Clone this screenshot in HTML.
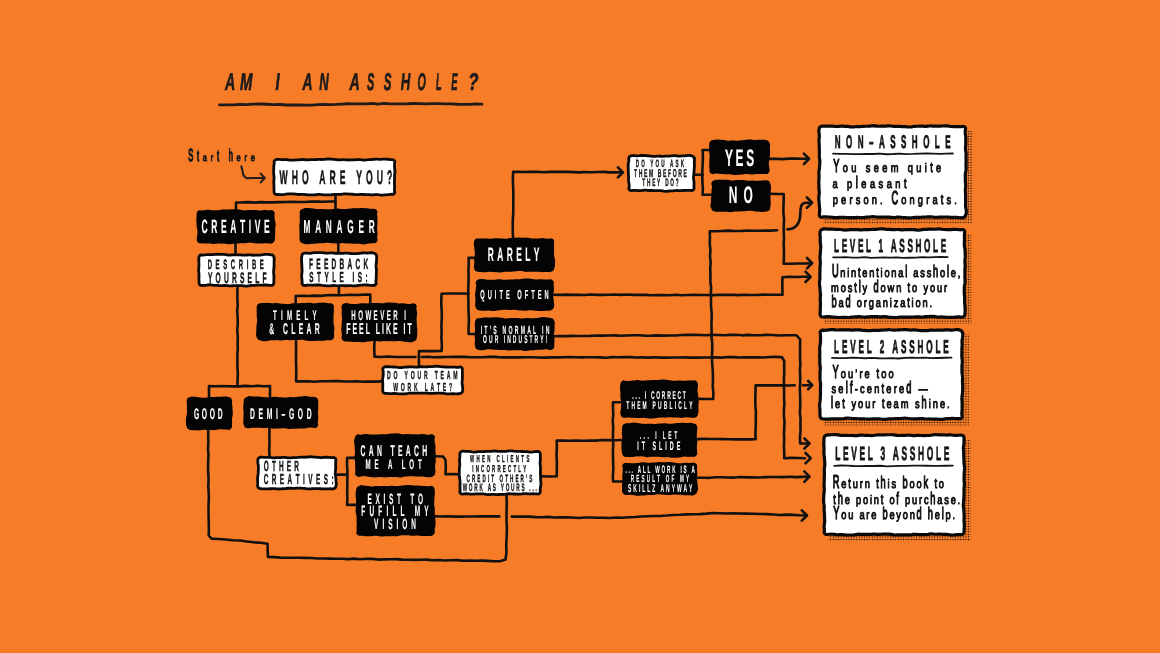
<!DOCTYPE html>
<html><head><meta charset="utf-8"><title>Am I an asshole?</title>
<style>html,body{margin:0;padding:0;background:#F77C27;}body{width:1160px;height:653px;overflow:hidden;font-family:"Liberation Sans",sans-serif;}svg{display:block;will-change:transform;}</style>
</head><body>
<svg width="1160" height="653" viewBox="0 0 1160 653" font-family="'Liberation Sans', sans-serif" text-rendering="geometricPrecision">
<defs><pattern id="dots" width="2.6" height="2.6" patternUnits="userSpaceOnUse"><circle cx="1.3" cy="1.3" r="0.7" fill="#0c0804"/></pattern></defs>
<rect width="1160" height="653" fill="#F77C27"/>
<text x="381.34" y="90.1" transform="scale(0.5898,1)" font-size="24.09" font-weight="bold" font-style="italic" fill="#1e1b1a" stroke="#1e1b1a" stroke-width="0.7" stroke-linejoin="round" vector-effect="non-scaling-stroke">A</text>
<text x="388.82" y="90.1" transform="scale(0.6171,1)" font-size="24.09" font-weight="bold" font-style="italic" fill="#1e1b1a" stroke="#1e1b1a" stroke-width="0.7" stroke-linejoin="round" vector-effect="non-scaling-stroke">M</text>
<text x="449.45" y="90.1" transform="scale(0.6130,1)" font-size="24.09" font-weight="bold" font-style="italic" fill="#1e1b1a" stroke="#1e1b1a" stroke-width="0.7" stroke-linejoin="round" vector-effect="non-scaling-stroke">I</text>
<text x="523.37" y="90.1" transform="scale(0.5780,1)" font-size="24.09" font-weight="bold" font-style="italic" fill="#1e1b1a" stroke="#1e1b1a" stroke-width="0.7" stroke-linejoin="round" vector-effect="non-scaling-stroke">A</text>
<text x="582.71" y="90.1" transform="scale(0.5479,1)" font-size="24.09" font-weight="bold" font-style="italic" fill="#1e1b1a" stroke="#1e1b1a" stroke-width="0.7" stroke-linejoin="round" vector-effect="non-scaling-stroke">N</text>
<text x="592.77" y="90.1" transform="scale(0.5898,1)" font-size="24.09" font-weight="bold" font-style="italic" fill="#1e1b1a" stroke="#1e1b1a" stroke-width="0.7" stroke-linejoin="round" vector-effect="non-scaling-stroke">A</text>
<text x="808.13" y="90.1" transform="scale(0.4540,1)" font-size="24.09" font-weight="bold" font-style="italic" fill="#1e1b1a" stroke="#1e1b1a" stroke-width="0.7" stroke-linejoin="round" vector-effect="non-scaling-stroke">S</text>
<text x="801.78" y="90.1" transform="scale(0.4785,1)" font-size="24.09" font-weight="bold" font-style="italic" fill="#1e1b1a" stroke="#1e1b1a" stroke-width="0.7" stroke-linejoin="round" vector-effect="non-scaling-stroke">S</text>
<text x="731.46" y="90.1" transform="scale(0.5479,1)" font-size="24.09" font-weight="bold" font-style="italic" fill="#1e1b1a" stroke="#1e1b1a" stroke-width="0.7" stroke-linejoin="round" vector-effect="non-scaling-stroke">H</text>
<text x="940.40" y="90.1" transform="scale(0.4440,1)" font-size="24.09" font-weight="bold" font-style="italic" fill="#1e1b1a" stroke="#1e1b1a" stroke-width="0.7" stroke-linejoin="round" vector-effect="non-scaling-stroke">O</text>
<text x="1133.87" y="90.1" transform="scale(0.3845,1)" font-size="24.09" font-weight="bold" font-style="italic" fill="#1e1b1a" stroke="#1e1b1a" stroke-width="0.7" stroke-linejoin="round" vector-effect="non-scaling-stroke">L</text>
<text x="1148.81" y="90.1" transform="scale(0.3929,1)" font-size="24.09" font-weight="bold" font-style="italic" fill="#1e1b1a" stroke="#1e1b1a" stroke-width="0.7" stroke-linejoin="round" vector-effect="non-scaling-stroke">E</text>
<text x="673.49" y="90.1" transform="scale(0.6952,1)" font-size="24.09" font-weight="bold" font-style="italic" fill="#1e1b1a" stroke="#1e1b1a" stroke-width="0.7" stroke-linejoin="round" vector-effect="non-scaling-stroke">?</text>
<path d="M219.50,104.80 L226.25,104.79 L233.00,104.78 L239.75,104.29 L246.51,104.57 L253.25,104.11 L260.00,104.00 L266.66,104.26 L273.33,104.64 L280.00,104.49 L286.66,104.99 L293.33,104.88 L300.00,105.00 L306.01,105.18 L312.01,105.05 L318.00,104.69 L324.00,104.29 L330.01,104.66 L336.00,104.47 L342.00,104.07 L347.99,103.73 L354.00,103.87 L360.00,103.80 L366.00,103.85 L372.00,103.43 L378.00,104.06 L384.00,103.47 L390.00,103.85 L396.00,103.93 L402.00,103.93 L408.00,103.77 L414.00,103.40 L420.00,103.60 L426.20,103.88 L432.40,103.66 L438.60,103.68 L444.80,103.93 L451.00,103.87 L457.20,104.27 L463.40,104.33 L469.60,104.29 L475.80,104.01 L482.00,104.20" fill="none" stroke="#1e1b1a" stroke-width="2.80" stroke-linejoin="round" stroke-linecap="round"/>
<g font-size="10.40" fill="#1e1b1a" stroke="#1e1b1a" stroke-width="1.00" stroke-linejoin="round" vector-effect="non-scaling-stroke"><text transform="matrix(0.7200,0,0,1.6600,188.26,161.40)">S</text><text transform="matrix(0.7200,0,0,1.5200,197.01,161.40)">t</text><text transform="matrix(0.7200,0,0,1.0000,202.84,161.40)">a</text><text transform="matrix(0.7200,0,0,1.0000,210.76,161.40)">r</text><text transform="matrix(0.7200,0,0,1.5200,217.01,161.40)">t</text><text transform="matrix(0.7200,0,0,1.6200,228.68,161.40)">h</text><text transform="matrix(0.7200,0,0,1.0000,236.60,161.40)">e</text><text transform="matrix(0.7200,0,0,1.0000,244.52,161.40)">r</text><text transform="matrix(0.7200,0,0,1.0000,250.77,161.40)">e</text></g>
<path d="M241.40,166.30 L243.50,175.50 L246.50,178.20 L264.50,178.00" fill="none" stroke="#1e1b1a" stroke-width="2.00" stroke-linejoin="round" stroke-linecap="round"/>
<path d="M260.70,173.60 L264.70,178.00 L260.70,182.40" fill="none" stroke="#1e1b1a" stroke-width="2.00" stroke-linejoin="round" stroke-linecap="round"/>
<path d="M335.50,196.00 L335.45,202.50 L335.50,209.00" fill="none" stroke="#111111" stroke-width="2.60" stroke-linejoin="round" stroke-linecap="round"/>
<path d="M335.50,201.50 L329.28,201.43 L323.06,201.68 L316.84,201.65 L310.62,201.61 L304.41,202.02 L298.19,202.01 L291.97,201.76 L285.75,202.05 L279.53,202.08 L273.32,202.39 L267.10,202.35 L260.87,202.10 L254.66,202.65 L248.43,202.11 L242.22,202.38 L236.00,202.50 L236.00,210.00" fill="none" stroke="#111111" stroke-width="2.60" stroke-linejoin="round" stroke-linecap="round"/>
<path d="M235.50,243.00 L235.50,254.00" fill="none" stroke="#111111" stroke-width="2.60" stroke-linejoin="round" stroke-linecap="round"/>
<path d="M338.30,243.00 L338.30,252.00" fill="none" stroke="#111111" stroke-width="2.60" stroke-linejoin="round" stroke-linecap="round"/>
<path d="M338.90,286.50 L338.90,295.00" fill="none" stroke="#111111" stroke-width="2.60" stroke-linejoin="round" stroke-linecap="round"/>
<path d="M295.70,303.50 L295.70,296.00 L301.87,295.71 L308.05,296.01 L314.21,295.66 L320.39,295.87 L326.55,295.31 L332.73,295.13 L338.90,295.20 L345.18,295.03 L351.45,294.70 L357.74,294.97 L364.02,294.58 L370.30,294.60 L370.30,303.50" fill="none" stroke="#111111" stroke-width="2.60" stroke-linejoin="round" stroke-linecap="round"/>
<path d="M296.00,340.00 L296.07,346.90 L296.06,353.80 L295.97,360.70 L296.24,367.60 L296.31,374.50 L296.00,381.40 L302.11,381.42 L308.21,381.29 L314.32,381.71 L320.43,381.26 L326.54,381.30 L332.64,381.05 L338.75,381.17 L344.86,381.55 L350.96,381.48 L357.07,381.28 L363.18,381.73 L369.29,381.43 L375.39,381.63 L381.50,381.40" fill="none" stroke="#111111" stroke-width="2.60" stroke-linejoin="round" stroke-linecap="round"/>
<path d="M374.50,341.00 L374.23,348.80 L374.50,356.60 L381.33,356.98 L388.17,356.55 L395.00,357.06 L401.83,357.04 L408.67,357.01 L415.50,357.00" fill="none" stroke="#111111" stroke-width="2.60" stroke-linejoin="round" stroke-linecap="round"/>
<path d="M421.70,357.00 L427.85,356.75 L434.00,357.32 L440.14,357.08 L446.29,357.02 L452.44,356.80 L458.59,356.86 L464.74,356.84 L470.89,357.27 L477.03,357.18 L483.18,357.24 L489.33,356.88 L495.48,356.85 L501.63,357.42 L507.78,357.42 L513.92,357.39 L520.07,357.41 L526.22,357.25 L532.37,357.19 L538.52,357.43 L544.66,357.62 L550.81,357.35 L556.96,357.39 L563.11,357.27 L569.26,357.01 L575.41,357.21 L581.56,357.35 L587.70,357.29 L593.85,357.26 L600.00,357.40 L606.07,357.71 L612.13,357.11 L618.20,357.18 L624.27,357.11 L630.33,357.16 L636.40,357.44 L642.47,357.42 L648.53,357.62 L654.60,357.25 L660.67,357.64 L666.73,357.63 L672.80,357.52 L678.87,357.55 L684.93,357.42 L691.00,357.61 L697.07,357.64 L703.13,357.53 L709.20,357.56 L715.27,357.37 L721.33,357.60 L727.40,357.00 L733.47,357.17 L739.53,357.49 L745.60,357.41 L751.67,357.34 L757.73,357.32 L763.80,357.48 L769.87,356.97 L775.93,356.86 L782.00,357.20 L784.20,361.00 L784.18,367.07 L784.19,373.15 L783.91,379.23 L783.92,385.30 L784.09,391.38 L784.04,397.45 L784.43,403.52 L783.96,409.60 L783.87,415.68 L784.52,421.75 L784.22,427.82 L783.95,433.90 L784.23,439.98 L783.87,446.05 L784.22,452.12 L784.20,458.20 L791.13,457.87 L798.07,457.95 L805.00,458.20" fill="none" stroke="#111111" stroke-width="2.60" stroke-linejoin="round" stroke-linecap="round"/>
<path d="M805.50,453.00 L810.70,458.20 L805.50,463.40" fill="none" stroke="#111111" stroke-width="2.60" stroke-linejoin="round" stroke-linecap="round"/>
<path d="M419.00,365.50 L418.86,358.25 L419.00,351.00 L426.53,351.17 L434.07,351.09 L441.60,351.00 L441.83,344.63 L441.41,338.27 L441.58,331.90 L441.40,325.53 L441.72,319.17 L441.79,312.80 L441.38,306.43 L441.26,300.07 L441.60,293.70 L448.35,293.45 L455.10,293.49 L461.85,293.48 L468.60,293.70" fill="none" stroke="#111111" stroke-width="2.60" stroke-linejoin="round" stroke-linecap="round"/>
<path d="M474.50,257.90 L468.60,257.90 L468.77,264.24 L468.41,270.58 L468.61,276.92 L468.50,283.27 L468.27,289.61 L468.27,295.95 L468.45,302.29 L468.43,308.63 L468.73,314.98 L468.92,321.32 L468.56,327.66 L468.60,334.00 L475.50,334.00" fill="none" stroke="#111111" stroke-width="2.60" stroke-linejoin="round" stroke-linecap="round"/>
<path d="M513.10,238.50 L512.79,232.45 L512.76,226.39 L512.78,220.34 L513.19,214.28 L513.30,208.23 L513.29,202.17 L513.31,196.12 L513.31,190.06 L513.01,184.01 L512.82,177.95 L513.10,171.90 L519.15,171.68 L525.20,171.96 L531.25,171.86 L537.30,171.78 L543.35,172.30 L549.40,171.92 L555.45,171.77 L561.50,171.88 L567.55,171.92 L573.60,172.14 L579.65,172.37 L585.70,171.96 L591.75,172.31 L597.80,172.00 L603.85,171.90 L609.90,172.33 L615.95,172.35 L622.00,172.30" fill="none" stroke="#111111" stroke-width="2.60" stroke-linejoin="round" stroke-linecap="round"/>
<path d="M617.90,167.30 L622.90,172.30 L617.90,177.30" fill="none" stroke="#111111" stroke-width="2.60" stroke-linejoin="round" stroke-linecap="round"/>
<path d="M695.50,174.80 L702.60,174.80" fill="none" stroke="#111111" stroke-width="2.60" stroke-linejoin="round" stroke-linecap="round"/>
<path d="M709.50,150.00 L702.60,150.00 L702.91,156.39 L702.76,162.77 L702.37,169.16 L702.34,175.54 L702.36,181.93 L702.88,188.31 L702.60,194.70 L711.50,194.70" fill="none" stroke="#111111" stroke-width="2.60" stroke-linejoin="round" stroke-linecap="round"/>
<path d="M769.50,158.90 L776.00,158.69 L782.50,159.15 L789.00,158.67 L795.50,158.56 L802.00,158.79 L808.50,158.90" fill="none" stroke="#111111" stroke-width="2.60" stroke-linejoin="round" stroke-linecap="round"/>
<path d="M803.90,153.70 L809.10,158.90 L803.90,164.10" fill="none" stroke="#111111" stroke-width="2.60" stroke-linejoin="round" stroke-linecap="round"/>
<path d="M770.00,193.70 L776.85,193.95 L783.70,194.00 L783.73,200.33 L783.44,206.65 L783.36,212.98 L784.03,219.31 L783.80,225.64 L783.72,231.96 L784.00,238.29 L783.65,244.62 L783.96,250.95 L783.93,257.27 L783.70,263.60 L790.65,263.70 L797.60,263.57 L804.55,263.44 L811.50,263.20" fill="none" stroke="#111111" stroke-width="2.60" stroke-linejoin="round" stroke-linecap="round"/>
<path d="M807.00,258.00 L812.20,263.20 L807.00,268.40" fill="none" stroke="#111111" stroke-width="2.60" stroke-linejoin="round" stroke-linecap="round"/>
<path d="M554.00,294.70 L560.08,294.89 L566.17,294.66 L572.25,294.91 L578.33,294.81 L584.42,295.02 L590.50,294.49 L596.58,294.89 L602.67,294.83 L608.75,294.75 L614.83,294.54 L620.92,294.89 L627.00,294.56 L633.08,294.86 L639.17,294.85 L645.25,294.87 L651.33,295.24 L657.42,294.95 L663.50,295.15 L669.58,295.28 L675.67,294.74 L681.75,295.19 L687.83,294.99 L693.92,294.83 L700.00,295.00 L706.35,294.94 L712.69,295.08 L719.04,294.92 L725.38,294.87 L731.73,294.69 L738.08,295.14 L744.42,294.80 L750.77,294.99 L757.12,294.95 L763.46,294.58 L769.81,294.74 L776.15,294.68 L782.50,294.70 L782.32,285.95 L782.50,277.20 L789.37,276.81 L796.25,277.04 L803.12,276.82 L810.00,276.80" fill="none" stroke="#111111" stroke-width="2.60" stroke-linejoin="round" stroke-linecap="round"/>
<path d="M805.50,271.60 L810.70,276.80 L805.50,282.00" fill="none" stroke="#111111" stroke-width="2.60" stroke-linejoin="round" stroke-linecap="round"/>
<path d="M554.00,336.20 L560.08,336.15 L566.17,336.09 L572.25,335.92 L578.33,336.03 L584.42,335.93 L590.50,335.92 L596.58,335.54 L602.67,335.66 L608.75,335.49 L614.83,335.39 L620.92,335.82 L627.00,335.56 L633.08,335.24 L639.16,335.26 L645.25,335.70 L651.34,335.66 L657.42,335.39 L663.50,335.60 L669.58,335.43 L675.67,335.50 L681.75,335.03 L687.83,334.90 L693.91,334.77 L700.00,335.00 L706.03,335.26 L712.06,334.89 L718.09,334.94 L724.12,335.32 L730.16,334.83 L736.19,334.79 L742.22,335.33 L748.25,334.83 L754.28,335.24 L760.31,335.20 L766.34,334.86 L772.38,334.99 L778.41,335.48 L784.44,335.31 L790.47,335.27 L796.50,335.30 L800.20,339.50 L800.09,345.62 L799.99,351.74 L800.07,357.85 L800.36,363.97 L799.86,370.09 L800.24,376.21 L800.16,382.32 L799.86,388.44 L800.08,394.56 L800.29,400.68 L800.21,406.79 L799.90,412.91 L800.54,419.03 L800.40,425.15 L800.53,431.26 L799.92,437.38 L800.20,443.50 L809.00,443.50" fill="none" stroke="#111111" stroke-width="2.60" stroke-linejoin="round" stroke-linecap="round"/>
<path d="M804.30,438.30 L809.50,443.50 L804.30,448.70" fill="none" stroke="#111111" stroke-width="2.60" stroke-linejoin="round" stroke-linecap="round"/>
<path d="M698.00,398.90 L705.60,399.06 L713.20,398.90 L713.38,392.71 L712.73,386.54 L712.95,380.35 L712.91,374.17 L712.57,367.99 L712.09,361.82 L712.01,355.64 L712.27,349.45 L712.21,343.26 L711.53,337.09 L711.64,330.91 L711.41,324.73 L711.70,318.54 L711.58,312.36 L711.01,306.18 L711.00,300.00 L710.94,293.74 L711.08,287.49 L710.37,281.24 L710.47,274.98 L710.24,268.73 L710.64,262.47 L709.99,256.22 L710.43,249.96 L709.76,243.71 L709.94,237.45 L709.80,231.20 L715.92,231.22 L722.04,230.98 L728.15,230.63 L734.28,231.00 L740.39,231.00 L746.51,230.64 L752.63,230.75 L758.75,230.75 L764.87,230.62 L770.99,230.61 L777.10,230.20" fill="none" stroke="#111111" stroke-width="2.60" stroke-linejoin="round" stroke-linecap="round"/>
<path d="M787.5,229.4 C796,229 800,224 800.3,214 C800.5,205 802,202.7 806,202.7 L811.5,202.7" fill="none" stroke="#111111" stroke-width="2.6" stroke-linecap="round"/>
<path d="M806.90,197.50 L812.10,202.70 L806.90,207.90" fill="none" stroke="#111111" stroke-width="2.60" stroke-linejoin="round" stroke-linecap="round"/>
<path d="M541.70,476.30 L549.20,476.51 L556.70,476.30 L556.83,469.16 L556.84,462.02 L556.52,454.88 L556.85,447.74 L556.70,440.60 L563.26,440.54 L569.82,440.71 L576.38,440.53 L582.94,440.70 L589.50,440.47 L596.06,440.58 L602.62,440.02 L609.18,440.08 L615.74,440.28 L622.30,440.00" fill="none" stroke="#111111" stroke-width="2.60" stroke-linejoin="round" stroke-linecap="round"/>
<path d="M620.50,402.30 L613.00,402.30 L612.98,408.39 L613.30,414.48 L612.72,420.58 L613.22,426.67 L612.95,432.76 L613.00,438.85 L613.23,444.95 L612.93,451.04 L613.00,457.13 L613.13,463.22 L613.34,469.32 L612.89,475.41 L613.00,481.50 L622.30,481.50" fill="none" stroke="#111111" stroke-width="2.60" stroke-linejoin="round" stroke-linecap="round"/>
<path d="M697.30,439.10 L703.78,438.87 L710.26,438.96 L716.73,439.00 L723.21,439.17 L729.69,439.21 L736.17,439.41 L742.64,439.36 L749.12,439.40 L755.60,439.10 L755.43,432.36 L755.77,425.62 L755.84,418.89 L755.89,412.15 L755.36,405.41 L755.34,398.68 L755.48,391.94 L755.60,385.20 L762.13,385.35 L768.67,385.38 L775.20,385.34 L781.73,385.23 L788.27,385.44 L794.80,385.20" fill="none" stroke="#111111" stroke-width="2.60" stroke-linejoin="round" stroke-linecap="round"/>
<path d="M803.00,385.20 L811.50,385.20" fill="none" stroke="#111111" stroke-width="2.60" stroke-linejoin="round" stroke-linecap="round"/>
<path d="M808.10,381.00 L812.30,385.20 L808.10,389.40" fill="none" stroke="#111111" stroke-width="2.60" stroke-linejoin="round" stroke-linecap="round"/>
<path d="M697.30,477.80 L703.48,477.77 L709.66,477.83 L715.83,477.28 L722.01,477.20 L728.19,477.43 L734.37,477.58 L740.54,477.01 L746.72,477.40 L752.90,477.30 L759.08,477.48 L765.26,477.15 L771.43,477.02 L777.61,476.93 L783.79,477.08 L789.97,476.80 L796.15,477.08 L802.32,476.83 L808.50,476.60" fill="none" stroke="#111111" stroke-width="2.60" stroke-linejoin="round" stroke-linecap="round"/>
<path d="M804.30,471.40 L809.50,476.60 L804.30,481.80" fill="none" stroke="#111111" stroke-width="2.60" stroke-linejoin="round" stroke-linecap="round"/>
<path d="M434.80,516.20 L441.25,516.51 L447.70,516.31 L454.15,516.58 L460.60,516.61 L467.05,516.44 L473.50,516.51 L479.95,516.28 L486.40,516.34 L492.85,516.20 L499.30,516.40" fill="none" stroke="#111111" stroke-width="2.60" stroke-linejoin="round" stroke-linecap="round"/>
<path d="M511.70,516.60 L517.74,516.59 L523.78,516.65 L529.82,516.63 L535.85,517.08 L541.89,517.22 L547.93,516.86 L553.96,517.55 L560.00,517.40 L566.25,517.32 L572.50,517.45 L578.75,517.94 L585.00,517.47 L591.25,517.50 L597.50,517.76 L603.75,517.76 L610.00,518.00 L616.24,517.53 L622.51,517.75 L628.75,517.23 L635.00,517.00 L641.24,516.52 L647.49,516.29 L653.74,516.02 L660.00,516.00 L666.62,515.57 L673.23,514.98 L679.87,514.75 L686.49,514.36 L693.14,514.31 L699.77,514.08 L706.39,513.63 L713.00,513.00 L719.71,513.24 L726.42,513.56 L733.15,513.19 L739.86,513.53 L746.57,513.62 L753.29,513.77 L760.00,514.00 L766.58,514.09 L773.14,514.44 L779.70,514.99 L786.29,514.65 L792.86,514.90 L799.43,515.28 L806.00,515.50" fill="none" stroke="#111111" stroke-width="2.60" stroke-linejoin="round" stroke-linecap="round"/>
<path d="M801.80,510.30 L807.00,515.50 L801.80,520.70" fill="none" stroke="#111111" stroke-width="2.60" stroke-linejoin="round" stroke-linecap="round"/>
<path d="M208.20,430.00 L208.25,436.21 L208.37,442.41 L207.98,448.62 L208.48,454.82 L208.17,461.03 L208.08,467.24 L208.24,473.44 L208.60,479.65 L208.26,485.85 L208.66,492.06 L208.86,498.26 L208.55,504.47 L208.50,510.68 L208.60,516.88 L208.77,523.09 L208.86,529.29 L208.70,535.50 L211.50,538.60 L218.63,538.99 L225.76,539.45 L232.86,540.32 L240.00,540.50 L246.87,541.57 L253.78,542.32 L260.72,542.81 L267.60,543.80 L267.66,550.40 L268.00,557.00 L274.20,557.11 L280.39,557.66 L286.59,557.79 L292.80,557.80 L299.00,557.68 L305.20,557.83 L311.40,558.00 L317.60,558.43 L323.80,558.43 L330.00,558.60 L336.00,558.70 L342.00,558.78 L348.00,559.11 L354.00,558.64 L360.00,559.21 L366.00,558.75 L372.00,558.85 L378.00,559.58 L384.00,559.35 L390.00,559.18 L396.00,559.15 L402.00,559.60 L408.00,559.80 L414.00,559.92 L420.00,559.80 L426.16,559.60 L432.30,560.22 L438.46,560.07 L444.61,560.48 L450.77,560.32 L456.93,560.13 L463.07,560.81 L469.23,560.44 L475.38,560.76 L481.54,560.61 L487.69,560.84 L493.84,561.28 L500.00,561.20 L505.50,559.50 L506.50,552.00 L506.22,545.72 L506.51,539.44 L506.83,533.17 L506.85,526.89 L506.51,520.61 L506.53,514.33 L506.64,508.06 L506.75,501.78 L506.50,495.50" fill="none" stroke="#111111" stroke-width="2.60" stroke-linejoin="round" stroke-linecap="round"/>
<path d="M237.50,286.50 L237.39,292.73 L237.37,298.95 L237.74,305.18 L237.15,311.40 L237.68,317.62 L237.74,323.85 L237.23,330.07 L237.80,336.30 L237.65,342.53 L237.78,348.75 L237.35,354.98 L237.41,361.20 L237.43,367.43 L237.85,373.65 L237.56,379.88 L237.50,386.10" fill="none" stroke="#111111" stroke-width="2.60" stroke-linejoin="round" stroke-linecap="round"/>
<path d="M209.00,397.00 L209.00,386.10 L215.10,386.20 L221.20,386.15 L227.30,386.26 L233.40,386.42 L239.50,386.38 L245.60,385.87 L251.70,386.25 L257.80,385.80 L263.90,386.28 L270.00,386.10 L270.00,397.00" fill="none" stroke="#111111" stroke-width="2.60" stroke-linejoin="round" stroke-linecap="round"/>
<path d="M269.50,428.00 L269.34,435.12 L269.51,442.25 L269.28,449.38 L269.50,456.50" fill="none" stroke="#111111" stroke-width="2.60" stroke-linejoin="round" stroke-linecap="round"/>
<path d="M337.30,474.60 L347.10,474.60" fill="none" stroke="#111111" stroke-width="2.60" stroke-linejoin="round" stroke-linecap="round"/>
<path d="M355.00,457.90 L347.10,457.90 L347.01,464.61 L347.42,471.33 L347.37,478.04 L347.32,484.76 L347.19,491.47 L347.39,498.19 L347.10,504.90 L356.50,504.90" fill="none" stroke="#111111" stroke-width="2.60" stroke-linejoin="round" stroke-linecap="round"/>
<path d="M435.20,456.20 L443.00,456.50 L445.50,460.00 L445.81,467.10 L445.50,474.20 L452.05,474.17 L458.60,474.20" fill="none" stroke="#111111" stroke-width="2.60" stroke-linejoin="round" stroke-linecap="round"/>
<path d="M200.60,210.42 L202.23,210.45 L203.87,210.27 L205.50,209.95 L207.13,209.75 L208.76,209.83 L210.40,210.06 L212.03,210.22 L213.66,210.23 L215.29,210.20 L216.93,210.21 L218.56,210.17 L220.19,209.94 L221.82,209.60 L223.46,209.38 L225.09,209.41 L226.72,209.55 L228.35,209.56 L229.99,209.40 L231.62,209.24 L233.25,209.23 L234.88,209.32 L236.52,209.37 L238.15,209.41 L239.78,209.58 L241.41,209.95 L243.05,210.31 L244.68,210.43 L246.31,210.28 L247.94,210.08 L249.58,210.02 L251.21,210.06 L252.84,210.07 L254.47,210.02 L256.11,210.06 L257.74,210.24 L259.37,210.42 L261.00,210.38 L262.64,210.17 L264.27,210.02 L265.90,210.09 L267.53,210.29 L269.17,210.39 L270.80,209.90 L272.33,210.20 L273.63,211.07 L274.50,212.37 L274.80,213.90 L274.38,213.90 L274.50,215.61 L274.58,217.31 L274.72,219.02 L275.07,220.73 L275.48,222.43 L275.66,224.14 L275.52,225.85 L275.29,227.55 L275.19,229.26 L275.22,230.97 L275.19,232.67 L275.06,234.38 L274.99,236.09 L275.04,237.79 L274.80,239.50 L274.50,241.03 L273.63,242.33 L272.33,243.20 L270.80,243.50 L270.80,243.75 L269.17,243.56 L267.53,243.27 L265.90,243.13 L264.27,243.25 L262.64,243.48 L261.00,243.60 L259.37,243.55 L257.74,243.47 L256.11,243.44 L254.47,243.34 L252.84,243.08 L251.21,242.77 L249.58,242.65 L247.94,242.81 L246.31,243.08 L244.68,243.21 L243.05,243.19 L241.41,243.19 L239.78,243.33 L238.15,243.50 L236.52,243.58 L234.88,243.62 L233.25,243.77 L231.62,244.07 L229.99,244.31 L228.35,244.27 L226.72,243.99 L225.09,243.72 L223.46,243.62 L221.82,243.63 L220.19,243.61 L218.56,243.56 L216.93,243.63 L215.29,243.83 L213.66,243.97 L212.03,243.88 L210.40,243.60 L208.76,243.40 L207.13,243.41 L205.50,243.51 L203.87,243.50 L202.23,243.36 L200.60,243.50 L199.07,243.20 L197.77,242.33 L196.90,241.03 L196.60,239.50 L196.88,239.50 L196.93,237.79 L197.03,236.09 L197.28,234.38 L197.54,232.67 L197.52,230.97 L197.20,229.26 L196.82,227.55 L196.62,225.85 L196.57,224.14 L196.49,222.43 L196.37,220.73 L196.35,219.02 L196.47,217.31 L196.54,215.61 L196.60,213.90 L196.90,212.37 L197.77,211.07 L199.07,210.20 L200.60,209.90Z" fill="#040404"/>
<path d="M303.60,208.20 L305.23,207.99 L306.86,207.98 L308.48,208.06 L310.11,208.13 L311.74,208.24 L313.37,208.49 L315.00,208.86 L316.62,209.12 L318.25,209.12 L319.88,208.97 L321.51,208.92 L323.13,209.07 L324.76,209.24 L326.39,209.27 L328.02,209.19 L329.65,209.14 L331.27,209.15 L332.90,209.07 L334.53,208.82 L336.16,208.56 L337.79,208.51 L339.41,208.72 L341.04,208.98 L342.67,209.07 L344.30,208.98 L345.93,208.88 L347.55,208.82 L349.18,208.70 L350.81,208.44 L352.44,208.16 L354.07,208.08 L355.69,208.21 L357.32,208.35 L358.95,208.30 L360.58,208.11 L362.20,208.00 L363.83,208.08 L365.46,208.25 L367.09,208.37 L368.72,208.49 L370.34,208.73 L371.97,209.08 L373.60,208.70 L375.13,209.00 L376.43,209.87 L377.30,211.17 L377.60,212.70 L376.98,212.70 L377.04,214.38 L377.31,216.05 L377.50,217.72 L377.48,219.40 L377.39,221.07 L377.37,222.75 L377.39,224.42 L377.31,226.10 L377.15,227.78 L377.12,229.45 L377.29,231.12 L377.50,232.80 L377.50,234.47 L377.29,236.15 L377.14,237.82 L377.60,239.50 L377.30,241.03 L376.43,242.33 L375.13,243.20 L373.60,243.50 L373.60,243.11 L371.97,243.31 L370.34,243.47 L368.72,243.61 L367.09,243.85 L365.46,244.18 L363.83,244.40 L362.20,244.35 L360.58,244.07 L358.95,243.84 L357.32,243.80 L355.69,243.86 L354.07,243.83 L352.44,243.70 L350.81,243.60 L349.18,243.61 L347.55,243.59 L345.93,243.41 L344.30,243.16 L342.67,243.07 L341.04,243.24 L339.41,243.51 L337.79,243.62 L336.16,243.52 L334.53,243.36 L332.90,243.27 L331.27,243.17 L329.65,242.97 L328.02,242.73 L326.39,242.69 L324.76,242.91 L323.13,243.22 L321.51,243.37 L319.88,243.33 L318.25,243.31 L316.62,243.43 L315.00,243.63 L313.37,243.76 L311.74,243.82 L310.11,243.94 L308.48,244.17 L306.86,244.34 L305.23,244.24 L303.60,243.50 L302.07,243.20 L300.77,242.33 L299.90,241.03 L299.60,239.50 L299.19,239.50 L299.51,237.82 L299.60,236.15 L299.52,234.47 L299.48,232.80 L299.50,231.12 L299.44,229.45 L299.29,227.78 L299.23,226.10 L299.39,224.42 L299.69,222.75 L299.84,221.07 L299.76,219.40 L299.64,217.72 L299.69,216.05 L299.89,214.38 L299.60,212.70 L299.90,211.17 L300.77,209.87 L302.07,209.00 L303.60,208.70Z" fill="#040404"/>
<path d="M260.60,302.93 L262.22,302.90 L263.83,302.94 L265.45,302.92 L267.07,302.85 L268.68,302.89 L270.30,303.08 L271.91,303.27 L273.53,303.28 L275.15,303.11 L276.76,303.01 L278.38,303.14 L280.00,303.44 L281.61,303.68 L283.23,303.81 L284.84,303.90 L286.46,304.02 L288.08,304.08 L289.69,303.91 L291.31,303.54 L292.93,303.22 L294.54,303.14 L296.16,303.23 L297.77,303.28 L299.39,303.17 L301.01,303.02 L302.62,302.98 L304.24,302.99 L305.86,302.93 L307.47,302.78 L309.09,302.71 L310.70,302.87 L312.32,303.15 L313.94,303.27 L315.55,303.14 L317.17,302.89 L318.79,302.73 L320.40,302.69 L322.02,302.66 L323.63,302.60 L325.25,302.63 L326.87,302.88 L328.48,303.25 L330.10,303.20 L331.63,303.50 L332.93,304.37 L333.80,305.67 L334.10,307.20 L333.81,307.20 L333.81,308.82 L333.90,310.44 L333.87,312.07 L333.69,313.69 L333.52,315.31 L333.48,316.93 L333.51,318.56 L333.48,320.18 L333.44,321.80 L333.56,323.42 L333.90,325.04 L334.25,326.67 L334.38,328.29 L334.25,329.91 L334.06,331.53 L334.01,333.16 L334.04,334.78 L334.10,336.40 L333.80,337.93 L332.93,339.23 L331.63,340.10 L330.10,340.40 L330.10,340.33 L328.48,340.28 L326.87,340.35 L325.25,340.59 L323.63,340.84 L322.02,340.90 L320.40,340.76 L318.79,340.63 L317.17,340.70 L315.55,340.90 L313.94,341.03 L312.32,341.01 L310.70,340.95 L309.09,340.92 L307.47,340.85 L305.86,340.59 L304.24,340.17 L302.62,339.83 L301.01,339.77 L299.39,339.92 L297.77,340.06 L296.16,340.07 L294.54,340.02 L292.93,340.07 L291.31,340.15 L289.69,340.14 L288.08,340.01 L286.46,339.95 L284.84,340.09 L283.23,340.36 L281.61,340.50 L280.00,340.40 L278.38,340.20 L276.76,340.10 L275.15,340.14 L273.53,340.20 L271.91,340.23 L270.30,340.34 L268.68,340.63 L267.07,341.01 L265.45,341.24 L263.83,341.18 L262.22,340.97 L260.60,340.40 L259.07,340.10 L257.77,339.23 L256.90,337.93 L256.60,336.40 L256.15,336.40 L256.13,334.78 L256.11,333.16 L256.21,331.53 L256.36,329.91 L256.42,328.29 L256.41,326.67 L256.52,325.04 L256.81,323.42 L257.12,321.80 L257.20,320.18 L257.02,318.56 L256.79,316.93 L256.69,315.31 L256.70,313.69 L256.70,312.07 L256.67,310.44 L256.75,308.82 L256.60,307.20 L256.90,305.67 L257.77,304.37 L259.07,303.50 L260.60,303.20Z" fill="#040404"/>
<path d="M345.40,302.93 L347.01,303.07 L348.61,303.43 L350.22,303.78 L351.83,303.94 L353.44,303.95 L355.04,303.95 L356.65,303.95 L358.26,303.83 L359.86,303.55 L361.47,303.26 L363.08,303.17 L364.69,303.29 L366.29,303.41 L367.90,303.34 L369.51,303.13 L371.11,302.97 L372.72,302.96 L374.33,302.98 L375.94,302.94 L377.54,302.88 L379.15,302.96 L380.76,303.16 L382.36,303.29 L383.97,303.16 L385.58,302.84 L387.19,302.56 L388.79,302.50 L390.40,302.57 L392.01,302.64 L393.61,302.68 L395.22,302.83 L396.83,303.12 L398.44,303.39 L400.04,303.45 L401.65,303.34 L403.26,303.30 L404.86,303.47 L406.47,303.74 L408.08,303.90 L409.69,303.88 L411.29,303.78 L412.90,303.20 L414.43,303.50 L415.73,304.37 L416.60,305.67 L416.90,307.20 L416.37,307.20 L416.44,308.88 L416.66,310.57 L416.98,312.25 L417.12,313.93 L416.97,315.62 L416.70,317.30 L416.58,318.98 L416.67,320.67 L416.79,322.35 L416.84,324.03 L416.89,325.72 L417.07,327.40 L417.29,329.08 L417.33,330.77 L417.19,332.45 L417.11,334.13 L417.28,335.82 L416.90,337.50 L416.60,339.03 L415.73,340.33 L414.43,341.20 L412.90,341.50 L412.90,342.16 L411.29,342.31 L409.69,342.23 L408.08,342.06 L406.47,341.93 L404.86,341.78 L403.26,341.51 L401.65,341.16 L400.04,340.94 L398.44,341.00 L396.83,341.22 L395.22,341.36 L393.61,341.30 L392.01,341.16 L390.40,341.12 L388.79,341.18 L387.19,341.21 L385.58,341.14 L383.97,341.12 L382.36,341.25 L380.76,341.46 L379.15,341.52 L377.54,341.34 L375.94,341.08 L374.33,340.98 L372.72,341.10 L371.11,341.29 L369.51,341.44 L367.90,341.59 L366.29,341.85 L364.69,342.16 L363.08,342.31 L361.47,342.19 L359.86,341.97 L358.26,341.86 L356.65,341.94 L355.04,342.04 L353.44,342.00 L351.83,341.83 L350.22,341.69 L348.61,341.62 L347.01,341.51 L345.40,341.50 L343.87,341.20 L342.57,340.33 L341.70,339.03 L341.40,337.50 L341.62,337.50 L341.87,335.82 L341.88,334.13 L341.62,332.45 L341.35,330.77 L341.30,329.08 L341.44,327.40 L341.57,325.72 L341.64,324.03 L341.74,322.35 L341.95,320.67 L342.09,318.98 L341.99,317.30 L341.74,315.62 L341.59,313.93 L341.66,312.25 L341.78,310.57 L341.72,308.88 L341.40,307.20 L341.70,305.67 L342.57,304.37 L343.87,303.50 L345.40,303.20Z" fill="#040404"/>
<path d="M190.60,396.77 L192.23,396.60 L193.86,396.63 L195.49,396.86 L197.12,397.10 L198.75,397.26 L200.38,397.41 L202.01,397.64 L203.64,397.83 L205.27,397.78 L206.90,397.48 L208.53,397.15 L210.17,397.02 L211.80,397.08 L213.43,397.11 L215.06,397.00 L216.69,396.86 L218.32,396.81 L219.95,396.81 L221.58,396.72 L223.21,396.52 L224.84,396.40 L226.47,396.53 L228.10,396.90 L229.63,397.20 L230.93,398.07 L231.80,399.37 L232.10,400.90 L232.19,400.90 L232.02,402.57 L232.10,404.25 L232.32,405.92 L232.46,407.59 L232.53,409.27 L232.65,410.94 L232.80,412.61 L232.80,414.29 L232.53,415.96 L232.18,417.63 L231.99,419.31 L232.03,420.98 L232.08,422.65 L231.95,424.33 L232.10,426.00 L231.80,427.53 L230.93,428.83 L229.63,429.70 L228.10,430.00 L228.10,429.64 L226.47,429.51 L224.84,429.48 L223.21,429.42 L221.58,429.28 L219.95,429.22 L218.32,429.41 L216.69,429.80 L215.06,430.09 L213.43,430.13 L211.80,430.01 L210.17,429.92 L208.53,429.92 L206.90,429.91 L205.27,429.82 L203.64,429.78 L202.01,429.93 L200.38,430.21 L198.75,430.39 L197.12,430.34 L195.49,430.19 L193.86,430.17 L192.23,430.34 L190.60,430.00 L189.07,429.70 L187.77,428.83 L186.90,427.53 L186.60,426.00 L186.07,426.00 L186.00,424.33 L185.99,422.65 L185.93,420.98 L185.89,419.31 L186.05,417.63 L186.46,415.96 L186.88,414.29 L187.06,412.61 L186.99,410.94 L186.91,409.27 L186.94,407.59 L186.98,405.92 L186.92,404.25 L186.84,402.57 L186.60,400.90 L186.90,399.37 L187.77,398.07 L189.07,397.20 L190.60,396.90Z" fill="#040404"/>
<path d="M247.70,396.13 L249.32,396.10 L250.94,396.30 L252.57,396.52 L254.19,396.56 L255.81,396.44 L257.43,396.39 L259.05,396.52 L260.68,396.74 L262.30,396.89 L263.92,396.98 L265.54,397.13 L267.16,397.36 L268.79,397.50 L270.41,397.38 L272.03,397.07 L273.65,396.85 L275.27,396.87 L276.90,397.04 L278.52,397.16 L280.14,397.20 L281.76,397.27 L283.38,397.41 L285.00,397.50 L286.63,397.39 L288.25,397.14 L289.87,396.99 L291.49,397.04 L293.11,397.18 L294.74,397.17 L296.36,396.95 L297.98,396.68 L299.60,396.51 L301.22,396.39 L302.85,396.21 L304.47,396.03 L306.09,396.02 L307.71,396.29 L309.33,396.66 L310.96,396.86 L312.58,396.83 L314.20,396.90 L315.73,397.20 L317.03,398.07 L317.90,399.37 L318.20,400.90 L318.36,400.90 L318.34,402.57 L318.25,404.24 L318.23,405.91 L318.29,407.59 L318.24,409.26 L318.04,410.93 L317.87,412.60 L317.92,414.27 L318.15,415.94 L318.28,417.61 L318.15,419.29 L317.90,420.96 L317.73,422.63 L318.20,424.30 L317.90,425.83 L317.03,427.13 L315.73,428.00 L314.20,428.30 L314.20,427.74 L312.58,427.64 L310.96,427.51 L309.33,427.51 L307.71,427.76 L306.09,428.16 L304.47,428.43 L302.85,428.46 L301.22,428.39 L299.60,428.43 L297.98,428.59 L296.36,428.72 L294.74,428.73 L293.11,428.73 L291.49,428.82 L289.87,428.95 L288.25,428.89 L286.63,428.60 L285.00,428.28 L283.38,428.18 L281.76,428.31 L280.14,428.48 L278.52,428.54 L276.90,428.55 L275.27,428.62 L273.65,428.69 L272.03,428.60 L270.41,428.30 L268.79,427.98 L267.16,427.87 L265.54,427.96 L263.92,428.04 L262.30,427.95 L260.68,427.76 L259.05,427.66 L257.43,427.68 L255.81,427.70 L254.19,427.65 L252.57,427.67 L250.94,427.92 L249.32,428.34 L247.70,428.30 L246.17,428.00 L244.87,427.13 L244.00,425.83 L243.70,424.30 L243.32,424.30 L243.26,422.63 L243.39,420.96 L243.49,419.29 L243.48,417.61 L243.49,415.94 L243.58,414.27 L243.62,412.60 L243.48,410.93 L243.26,409.26 L243.19,407.59 L243.35,405.91 L243.56,404.24 L243.57,402.57 L243.70,400.90 L244.00,399.37 L244.87,398.07 L246.17,397.20 L247.70,396.90Z" fill="#040404"/>
<path d="M358.90,434.58 L360.51,434.66 L362.11,434.54 L363.72,434.25 L365.33,434.02 L366.93,434.04 L368.54,434.27 L370.15,434.47 L371.75,434.53 L373.36,434.51 L374.97,434.54 L376.57,434.59 L378.18,434.53 L379.79,434.33 L381.39,434.14 L383.00,434.14 L384.61,434.27 L386.21,434.31 L387.82,434.11 L389.43,433.77 L391.03,433.52 L392.64,433.42 L394.25,433.38 L395.85,433.31 L397.46,433.31 L399.07,433.52 L400.67,433.88 L402.28,434.14 L403.89,434.16 L405.49,434.01 L407.10,433.92 L408.71,434.00 L410.31,434.13 L411.92,434.17 L413.53,434.15 L415.13,434.21 L416.74,434.36 L418.35,434.44 L419.95,434.33 L421.56,434.11 L423.17,434.05 L424.77,434.25 L426.38,434.56 L427.99,434.75 L429.59,434.78 L431.20,434.10 L432.73,434.40 L434.03,435.27 L434.90,436.57 L435.20,438.10 L434.54,438.10 L434.53,439.76 L434.61,441.41 L434.90,443.07 L435.28,444.73 L435.50,446.39 L435.47,448.04 L435.35,449.70 L435.40,451.36 L435.59,453.01 L435.74,454.67 L435.75,456.33 L435.70,457.99 L435.72,459.64 L435.73,461.30 L435.57,462.96 L435.25,464.61 L435.02,466.27 L435.07,467.93 L435.32,469.59 L435.51,471.24 L435.20,472.90 L434.90,474.43 L434.03,475.73 L432.73,476.60 L431.20,476.90 L431.20,477.22 L429.59,477.15 L427.99,477.13 L426.38,477.09 L424.77,476.92 L423.17,476.62 L421.56,476.40 L419.95,476.41 L418.35,476.56 L416.74,476.61 L415.13,476.46 L413.53,476.25 L411.92,476.18 L410.31,476.26 L408.71,476.37 L407.10,476.43 L405.49,476.57 L403.89,476.87 L402.28,477.26 L400.67,477.46 L399.07,477.38 L397.46,477.16 L395.85,477.03 L394.25,477.07 L392.64,477.13 L391.03,477.11 L389.43,477.08 L387.82,477.17 L386.21,477.33 L384.61,477.39 L383.00,477.24 L381.39,477.02 L379.79,476.97 L378.18,477.14 L376.57,477.34 L374.97,477.38 L373.36,477.27 L371.75,477.14 L370.15,477.04 L368.54,476.86 L366.93,476.53 L365.33,476.18 L363.72,476.04 L362.11,476.17 L360.51,476.41 L358.90,476.90 L357.37,476.60 L356.07,475.73 L355.20,474.43 L354.90,472.90 L355.28,472.90 L355.32,471.24 L355.34,469.59 L355.24,467.93 L355.12,466.27 L355.09,464.61 L355.11,462.96 L354.97,461.30 L354.69,459.64 L354.48,457.99 L354.54,456.33 L354.80,454.67 L354.98,453.01 L354.97,451.36 L354.86,449.70 L354.80,448.04 L354.72,446.39 L354.52,444.73 L354.23,443.07 L354.09,441.41 L354.23,439.76 L354.90,438.10 L355.20,436.57 L356.07,435.27 L357.37,434.40 L358.90,434.10Z" fill="#040404"/>
<path d="M360.10,485.09 L361.71,485.22 L363.31,485.48 L364.92,485.70 L366.53,485.86 L368.13,486.06 L369.74,486.33 L371.35,486.51 L372.95,486.43 L374.56,486.15 L376.17,485.93 L377.78,485.93 L379.38,486.08 L380.99,486.16 L382.60,486.11 L384.20,486.06 L385.81,486.09 L387.42,486.14 L389.02,486.06 L390.63,485.87 L392.24,485.76 L393.84,485.88 L395.45,486.11 L397.06,486.20 L398.66,486.05 L400.27,485.77 L401.88,485.55 L403.48,485.41 L405.09,485.23 L406.70,485.01 L408.30,484.90 L409.91,485.05 L411.52,485.35 L413.12,485.57 L414.73,485.56 L416.34,485.47 L417.95,485.49 L419.55,485.66 L421.16,485.84 L422.77,485.91 L424.37,485.96 L425.98,486.10 L427.59,486.28 L429.19,486.31 L430.80,485.80 L432.33,486.10 L433.63,486.97 L434.50,488.27 L434.80,489.80 L434.50,489.80 L434.79,491.42 L434.91,493.04 L434.78,494.66 L434.56,496.28 L434.44,497.90 L434.38,499.52 L434.29,501.13 L434.16,502.75 L434.15,504.37 L434.37,505.99 L434.67,507.61 L434.82,509.23 L434.75,510.85 L434.68,512.47 L434.77,514.09 L435.02,515.71 L435.24,517.33 L435.34,518.95 L435.41,520.57 L435.54,522.18 L435.63,523.80 L435.50,525.42 L435.15,527.04 L434.81,528.66 L434.69,530.28 L434.80,531.90 L434.50,533.43 L433.63,534.73 L432.33,535.60 L430.80,535.90 L430.80,535.90 L429.19,536.01 L427.59,536.01 L425.98,535.96 L424.37,535.99 L422.77,536.05 L421.16,535.99 L419.55,535.78 L417.95,535.58 L416.34,535.58 L414.73,535.75 L413.12,535.86 L411.52,535.75 L409.91,535.51 L408.30,535.33 L406.70,535.27 L405.09,535.24 L403.48,535.17 L401.88,535.17 L400.27,535.40 L398.66,535.81 L397.06,536.16 L395.45,536.26 L393.84,536.18 L392.24,536.12 L390.63,536.20 L389.02,536.30 L387.42,536.30 L385.81,536.24 L384.20,536.27 L382.60,536.39 L380.99,536.44 L379.38,536.27 L377.78,535.97 L376.17,535.79 L374.56,535.87 L372.95,536.07 L371.35,536.21 L369.74,536.22 L368.13,536.22 L366.53,536.26 L364.92,536.23 L363.31,535.98 L361.71,535.60 L360.10,535.90 L358.57,535.60 L357.27,534.73 L356.40,533.43 L356.10,531.90 L356.67,531.90 L356.68,530.28 L356.55,528.66 L356.50,527.04 L356.61,525.42 L356.71,523.80 L356.69,522.18 L356.60,520.57 L356.57,518.95 L356.58,517.33 L356.47,515.71 L356.14,514.09 L355.76,512.47 L355.58,510.85 L355.67,509.23 L355.87,507.61 L355.97,505.99 L355.96,504.37 L355.98,502.75 L356.05,501.13 L356.04,499.52 L355.84,497.90 L355.59,496.28 L355.52,494.66 L355.67,493.04 L355.86,491.42 L356.10,489.80 L356.40,488.27 L357.27,486.97 L358.57,486.10 L360.10,485.80Z" fill="#040404"/>
<path d="M478.00,238.42 L479.61,238.48 L481.22,238.58 L482.83,238.58 L484.44,238.47 L486.04,238.42 L487.65,238.55 L489.26,238.75 L490.87,238.78 L492.48,238.57 L494.09,238.31 L495.70,238.20 L497.31,238.27 L498.92,238.36 L500.52,238.39 L502.13,238.42 L503.74,238.56 L505.35,238.71 L506.96,238.67 L508.57,238.36 L510.18,237.97 L511.79,237.74 L513.40,237.73 L515.00,237.76 L516.61,237.71 L518.22,237.61 L519.83,237.62 L521.44,237.72 L523.05,237.76 L524.66,237.67 L526.27,237.58 L527.88,237.71 L529.48,238.07 L531.09,238.43 L532.70,238.58 L534.31,238.54 L535.92,238.48 L537.53,238.47 L539.14,238.42 L540.75,238.27 L542.36,238.12 L543.96,238.16 L545.57,238.42 L547.18,238.69 L548.79,238.75 L550.40,238.20 L551.93,238.50 L553.23,239.37 L554.10,240.67 L554.40,242.20 L553.97,242.20 L554.09,243.80 L554.07,245.40 L553.99,247.00 L554.00,248.60 L554.09,250.20 L554.13,251.80 L554.06,253.40 L554.04,255.00 L554.26,256.60 L554.67,258.20 L555.04,259.80 L555.17,261.40 L555.10,263.00 L555.01,264.60 L554.97,266.20 L554.40,267.80 L554.10,269.33 L553.23,270.63 L551.93,271.50 L550.40,271.80 L550.40,272.30 L548.79,272.11 L547.18,271.91 L545.57,271.89 L543.96,272.04 L542.36,272.17 L540.75,272.08 L539.14,271.83 L537.53,271.64 L535.92,271.65 L534.31,271.74 L532.70,271.77 L531.09,271.73 L529.48,271.76 L527.88,271.86 L526.27,271.89 L524.66,271.67 L523.05,271.28 L521.44,270.99 L519.83,270.97 L518.22,271.12 L516.61,271.25 L515.00,271.32 L513.40,271.42 L511.79,271.63 L510.18,271.83 L508.57,271.87 L506.96,271.79 L505.35,271.79 L503.74,272.01 L502.13,272.32 L500.52,272.49 L498.92,272.43 L497.31,272.27 L495.70,272.16 L494.09,272.10 L492.48,271.97 L490.87,271.79 L489.26,271.72 L487.65,271.90 L486.04,272.19 L484.44,272.35 L482.83,272.26 L481.22,272.05 L479.61,271.92 L478.00,271.80 L476.47,271.50 L475.17,270.63 L474.30,269.33 L474.00,267.80 L473.91,267.80 L473.98,266.20 L474.14,264.60 L474.28,263.00 L474.29,261.40 L474.21,259.80 L474.26,258.20 L474.52,256.60 L474.82,255.00 L474.93,253.40 L474.77,251.80 L474.52,250.20 L474.33,248.60 L474.19,247.00 L473.99,245.40 L473.75,243.80 L474.00,242.20 L474.30,240.67 L475.17,239.37 L476.47,238.50 L478.00,238.20Z" fill="#040404"/>
<path d="M479.50,279.12 L481.10,279.01 L482.70,278.98 L484.31,279.19 L485.91,279.53 L487.51,279.77 L489.11,279.82 L490.72,279.80 L492.32,279.81 L493.92,279.79 L495.52,279.64 L497.12,279.37 L498.73,279.20 L500.33,279.30 L501.93,279.58 L503.53,279.78 L505.14,279.77 L506.74,279.66 L508.34,279.61 L509.94,279.62 L511.55,279.56 L513.15,279.38 L514.75,279.23 L516.35,279.24 L517.95,279.35 L519.56,279.34 L521.16,279.09 L522.76,278.72 L524.36,278.49 L525.97,278.48 L527.57,278.56 L529.17,278.62 L530.77,278.71 L532.38,278.94 L533.98,279.27 L535.58,279.48 L537.18,279.44 L538.78,279.26 L540.39,279.17 L541.99,279.29 L543.59,279.47 L545.19,279.55 L546.80,279.51 L548.40,279.51 L550.00,279.30 L551.53,279.60 L552.83,280.47 L553.70,281.77 L554.00,283.30 L553.71,283.30 L553.67,284.95 L553.79,286.60 L553.97,288.25 L553.96,289.90 L553.69,291.55 L553.37,293.20 L553.25,294.85 L553.34,296.50 L553.48,298.15 L553.59,299.80 L553.74,301.45 L554.04,303.10 L554.35,304.75 L554.00,306.40 L553.70,307.93 L552.83,309.23 L551.53,310.10 L550.00,310.40 L550.00,310.86 L548.40,310.75 L546.80,310.64 L545.19,310.71 L543.59,310.92 L541.99,311.07 L540.39,311.03 L538.78,310.90 L537.18,310.82 L535.58,310.77 L533.98,310.62 L532.38,310.35 L530.77,310.16 L529.17,310.21 L527.57,310.48 L525.97,310.70 L524.36,310.72 L522.76,310.57 L521.16,310.44 L519.56,310.38 L517.95,310.27 L516.35,310.06 L514.75,309.85 L513.15,309.83 L511.55,309.98 L509.94,310.09 L508.34,310.00 L506.74,309.78 L505.14,309.67 L503.53,309.77 L501.93,309.98 L500.33,310.16 L498.73,310.31 L497.12,310.54 L495.52,310.85 L493.92,311.06 L492.32,311.00 L490.72,310.74 L489.11,310.53 L487.51,310.53 L485.91,310.66 L484.31,310.72 L482.70,310.69 L481.10,310.66 L479.50,310.40 L477.97,310.10 L476.67,309.23 L475.80,307.93 L475.50,306.40 L475.16,306.40 L475.09,304.75 L475.19,303.10 L475.40,301.45 L475.50,299.80 L475.35,298.15 L475.12,296.50 L475.06,294.85 L475.23,293.20 L475.47,291.55 L475.65,289.90 L475.81,288.25 L476.07,286.60 L476.33,284.95 L475.50,283.30 L475.80,281.77 L476.67,280.47 L477.97,279.60 L479.50,279.30Z" fill="#040404"/>
<path d="M479.10,318.15 L480.72,318.07 L482.34,317.82 L483.96,317.50 L485.58,317.32 L487.20,317.39 L488.82,317.54 L490.44,317.54 L492.06,317.38 L493.68,317.23 L495.30,317.24 L496.93,317.35 L498.55,317.43 L500.17,317.49 L501.79,317.69 L503.41,318.05 L505.03,318.39 L506.65,318.48 L508.27,318.30 L509.89,318.09 L511.51,318.02 L513.13,318.08 L514.75,318.09 L516.37,318.05 L517.99,318.08 L519.61,318.25 L521.23,318.41 L522.85,318.38 L524.47,318.17 L526.09,318.00 L527.71,318.06 L529.33,318.25 L530.95,318.36 L532.58,318.29 L534.20,318.15 L535.82,318.05 L537.44,317.93 L539.06,317.66 L540.68,317.28 L542.30,317.02 L543.92,317.06 L545.54,317.31 L547.16,317.50 L548.78,317.53 L550.40,317.90 L551.93,318.20 L553.23,319.07 L554.10,320.37 L554.40,321.90 L554.80,321.90 L554.74,323.51 L554.61,325.13 L554.55,326.74 L554.60,328.35 L554.58,329.97 L554.39,331.58 L554.11,333.19 L553.99,334.81 L554.14,336.42 L554.38,338.03 L554.49,339.65 L554.43,341.26 L554.33,342.87 L554.28,344.49 L554.40,346.10 L554.10,347.63 L553.23,348.93 L551.93,349.80 L550.40,350.10 L550.40,349.89 L548.78,349.65 L547.16,349.36 L545.54,349.25 L543.92,349.42 L542.30,349.71 L540.68,349.87 L539.06,349.86 L537.44,349.85 L535.82,349.96 L534.20,350.14 L532.58,350.25 L530.95,350.29 L529.33,350.41 L527.71,350.68 L526.09,350.92 L524.47,350.90 L522.85,350.63 L521.23,350.32 L519.61,350.19 L517.99,350.20 L516.37,350.20 L514.75,350.17 L513.13,350.20 L511.51,350.37 L509.89,350.52 L508.27,350.47 L506.65,350.22 L505.03,349.98 L503.41,349.94 L501.79,350.05 L500.17,350.08 L498.55,349.97 L496.93,349.81 L495.30,349.72 L493.68,349.67 L492.06,349.50 L490.44,349.26 L488.82,349.15 L487.20,349.34 L485.58,349.73 L483.96,350.06 L482.34,350.18 L480.72,350.20 L479.10,350.10 L477.57,349.80 L476.27,348.93 L475.40,347.63 L475.10,346.10 L474.93,346.10 L474.83,344.49 L474.82,342.87 L474.93,341.26 L475.00,339.65 L474.87,338.03 L474.65,336.42 L474.55,334.81 L474.70,333.19 L474.94,331.58 L475.04,329.97 L474.97,328.35 L474.88,326.74 L474.85,325.13 L474.81,323.51 L475.10,321.90 L475.40,320.37 L476.27,319.07 L477.57,318.20 L479.10,317.90Z" fill="#040404"/>
<path d="M713.20,140.10 L714.84,139.84 L716.48,139.60 L718.12,139.57 L719.76,139.71 L721.40,139.83 L723.04,139.92 L724.68,140.09 L726.33,140.38 L727.97,140.63 L729.61,140.63 L731.25,140.46 L732.89,140.36 L734.53,140.46 L736.17,140.64 L737.81,140.68 L739.45,140.53 L741.09,140.36 L742.73,140.25 L744.37,140.10 L746.01,139.82 L747.65,139.51 L749.29,139.41 L750.93,139.59 L752.58,139.87 L754.22,139.99 L755.86,139.91 L757.50,139.81 L759.14,139.79 L760.78,139.77 L762.42,139.65 L764.06,139.49 L765.70,140.00 L767.23,140.30 L768.53,141.17 L769.40,142.47 L769.70,144.00 L770.21,144.00 L770.03,145.64 L769.84,147.28 L769.87,148.91 L770.06,150.55 L770.18,152.19 L770.08,153.82 L769.86,155.46 L769.67,157.10 L769.52,158.74 L769.29,160.38 L768.98,162.01 L768.79,163.65 L768.89,165.29 L769.19,166.92 L769.43,168.56 L769.70,170.20 L769.40,171.73 L768.53,173.03 L767.23,173.90 L765.70,174.20 L765.70,173.95 L764.06,173.88 L762.42,173.91 L760.78,174.03 L759.14,174.10 L757.50,174.07 L755.86,174.09 L754.22,174.28 L752.58,174.50 L750.93,174.55 L749.29,174.35 L747.65,174.11 L746.01,174.06 L744.37,174.22 L742.73,174.40 L741.09,174.50 L739.45,174.63 L737.81,174.85 L736.17,175.04 L734.53,175.00 L732.89,174.72 L731.25,174.41 L729.61,174.31 L727.97,174.36 L726.33,174.35 L724.68,174.19 L723.04,174.00 L721.40,173.90 L719.76,173.85 L718.12,173.71 L716.48,173.50 L714.84,173.42 L713.20,174.20 L711.67,173.90 L710.37,173.03 L709.50,171.73 L709.20,170.20 L709.77,170.20 L709.42,168.56 L709.19,166.92 L709.20,165.29 L709.31,163.65 L709.36,162.01 L709.37,160.38 L709.45,158.74 L709.60,157.10 L709.62,155.46 L709.41,153.82 L709.11,152.19 L708.97,150.55 L709.05,148.91 L709.14,147.28 L709.07,145.64 L709.20,144.00 L709.50,142.47 L710.37,141.17 L711.67,140.30 L713.20,140.00Z" fill="#040404"/>
<path d="M715.20,179.86 L716.85,179.86 L718.50,179.72 L720.15,179.62 L721.79,179.66 L723.44,179.72 L725.09,179.71 L726.74,179.69 L728.39,179.84 L730.04,180.18 L731.68,180.46 L733.33,180.47 L734.98,180.25 L736.63,180.07 L738.28,180.04 L739.93,180.09 L741.57,180.08 L743.22,180.10 L744.87,180.28 L746.52,180.60 L748.17,180.82 L749.82,180.79 L751.46,180.61 L753.11,180.54 L754.76,180.65 L756.41,180.79 L758.06,180.78 L759.71,180.66 L761.35,180.57 L763.00,180.51 L764.65,180.33 L766.30,180.20 L767.83,180.50 L769.13,181.37 L770.00,182.67 L770.30,184.20 L770.54,184.20 L770.92,185.87 L771.02,187.54 L770.84,189.21 L770.62,190.89 L770.55,192.56 L770.57,194.23 L770.54,195.90 L770.46,197.57 L770.50,199.24 L770.66,200.91 L770.77,202.59 L770.65,204.26 L770.39,205.93 L770.30,207.60 L770.00,209.13 L769.13,210.43 L767.83,211.30 L766.30,211.60 L766.30,211.57 L764.65,211.68 L763.00,211.86 L761.35,211.89 L759.71,211.78 L758.06,211.67 L756.41,211.60 L754.76,211.43 L753.11,211.10 L751.46,210.75 L749.82,210.66 L748.17,210.85 L746.52,211.12 L744.87,211.24 L743.22,211.25 L741.57,211.30 L739.93,211.45 L738.28,211.56 L736.63,211.54 L734.98,211.53 L733.33,211.69 L731.68,211.98 L730.04,212.15 L728.39,212.06 L726.74,211.80 L725.09,211.64 L723.44,211.65 L721.79,211.71 L720.15,211.73 L718.50,211.78 L716.85,211.99 L715.20,211.60 L713.67,211.30 L712.37,210.43 L711.50,209.13 L711.20,207.60 L710.53,207.60 L710.43,205.93 L710.62,204.26 L710.93,202.59 L711.09,200.91 L711.08,199.24 L711.10,197.57 L711.24,195.90 L711.41,194.23 L711.48,192.56 L711.51,190.89 L711.67,189.21 L711.96,187.54 L712.11,185.87 L711.20,184.20 L711.50,182.67 L712.37,181.37 L713.67,180.50 L715.20,180.20Z" fill="#040404"/>
<path d="M624.40,380.87 L626.02,381.11 L627.64,381.10 L629.26,380.91 L630.87,380.73 L632.49,380.62 L634.11,380.49 L635.73,380.28 L637.35,380.12 L638.97,380.19 L640.59,380.45 L642.20,380.64 L643.82,380.60 L645.44,380.38 L647.06,380.22 L648.68,380.19 L650.30,380.19 L651.92,380.09 L653.53,379.96 L655.15,379.94 L656.77,380.04 L658.39,380.04 L660.01,379.83 L661.63,379.54 L663.25,379.41 L664.87,379.56 L666.48,379.85 L668.10,380.08 L669.72,380.24 L671.34,380.44 L672.96,380.69 L674.58,380.83 L676.20,380.73 L677.81,380.52 L679.43,380.43 L681.05,380.56 L682.67,380.75 L684.29,380.80 L685.91,380.68 L687.53,380.56 L689.14,380.55 L690.76,380.54 L692.38,380.44 L694.00,380.30 L695.53,380.60 L696.83,381.47 L697.70,382.77 L698.00,384.30 L698.00,384.30 L697.96,385.94 L697.71,387.58 L697.47,389.22 L697.46,390.86 L697.71,392.49 L698.01,394.13 L698.19,395.77 L698.32,397.41 L698.50,399.05 L698.69,400.69 L698.71,402.33 L698.54,403.97 L698.36,405.61 L698.38,407.24 L698.55,408.88 L698.62,410.52 L698.45,412.16 L698.00,413.80 L697.70,415.33 L696.83,416.63 L695.53,417.50 L694.00,417.80 L694.00,417.98 L692.38,417.79 L690.76,417.69 L689.14,417.57 L687.53,417.40 L685.91,417.33 L684.29,417.49 L682.67,417.79 L681.05,417.95 L679.43,417.85 L677.81,417.61 L676.20,417.45 L674.58,417.42 L672.96,417.39 L671.34,417.29 L669.72,417.23 L668.10,417.33 L666.48,417.53 L664.87,417.63 L663.25,417.53 L661.63,417.38 L660.01,417.43 L658.39,417.71 L656.77,418.03 L655.15,418.24 L653.53,418.35 L651.92,418.48 L650.30,418.61 L648.68,418.57 L647.06,418.31 L645.44,417.98 L643.82,417.84 L642.20,417.94 L640.59,418.08 L638.97,418.07 L637.35,417.95 L635.73,417.87 L634.11,417.88 L632.49,417.86 L630.87,417.73 L629.26,417.58 L627.64,417.60 L626.02,417.81 L624.40,417.80 L622.87,417.50 L621.57,416.63 L620.70,415.33 L620.40,413.80 L620.24,413.80 L620.34,412.16 L620.64,410.52 L620.91,408.88 L621.03,407.24 L621.08,405.61 L621.16,403.97 L621.19,402.33 L621.02,400.69 L620.67,399.05 L620.37,397.41 L620.32,395.77 L620.42,394.13 L620.43,392.49 L620.26,390.86 L620.04,389.22 L619.95,387.58 L619.95,385.94 L620.40,384.30 L620.70,382.77 L621.57,381.47 L622.87,380.60 L624.40,380.30Z" fill="#040404"/>
<path d="M626.10,423.12 L627.74,423.19 L629.38,423.16 L631.02,422.93 L632.66,422.64 L634.30,422.55 L635.93,422.76 L637.57,423.09 L639.21,423.33 L640.85,423.47 L642.49,423.63 L644.13,423.84 L645.77,423.94 L647.41,423.85 L649.05,423.68 L650.69,423.68 L652.32,423.87 L653.96,424.04 L655.60,423.99 L657.24,423.77 L658.88,423.58 L660.52,423.51 L662.16,423.47 L663.80,423.36 L665.44,423.28 L667.08,423.40 L668.71,423.67 L670.35,423.85 L671.99,423.75 L673.63,423.44 L675.27,423.18 L676.91,423.08 L678.55,423.02 L680.19,422.89 L681.83,422.77 L683.47,422.79 L685.10,422.95 L686.74,423.04 L688.38,422.92 L690.02,422.76 L691.66,422.78 L693.30,423.40 L694.83,423.70 L696.13,424.57 L697.00,425.87 L697.30,427.40 L697.64,427.40 L697.30,429.00 L697.09,430.60 L696.99,432.20 L696.88,433.80 L696.76,435.40 L696.76,437.00 L696.96,438.60 L697.24,440.20 L697.34,441.80 L697.19,443.40 L696.97,445.00 L696.88,446.60 L696.94,448.20 L697.00,449.80 L696.97,451.40 L697.30,453.00 L697.00,454.53 L696.13,455.83 L694.83,456.70 L693.30,457.00 L693.30,456.63 L691.66,456.72 L690.02,456.86 L688.38,456.89 L686.74,456.73 L685.10,456.59 L683.47,456.70 L681.83,457.05 L680.19,457.40 L678.55,457.59 L676.91,457.66 L675.27,457.75 L673.63,457.81 L671.99,457.70 L670.35,457.41 L668.71,457.14 L667.08,457.10 L665.44,457.23 L663.80,457.31 L662.16,457.18 L660.52,456.96 L658.88,456.84 L657.24,456.84 L655.60,456.81 L653.96,456.71 L652.32,456.68 L650.69,456.84 L649.05,457.08 L647.41,457.14 L645.77,456.92 L644.13,456.59 L642.49,456.39 L640.85,456.37 L639.21,456.38 L637.57,456.36 L635.93,456.41 L634.30,456.64 L632.66,456.95 L631.02,457.10 L629.38,457.04 L627.74,456.96 L626.10,457.00 L624.57,456.70 L623.27,455.83 L622.40,454.53 L622.10,453.00 L622.03,453.00 L621.75,451.40 L621.52,449.80 L621.45,448.20 L621.48,446.60 L621.48,445.00 L621.48,443.40 L621.63,441.80 L621.93,440.20 L622.21,438.60 L622.25,437.00 L622.05,435.40 L621.84,433.80 L621.79,432.20 L621.88,430.60 L621.94,429.00 L622.10,427.40 L622.40,425.87 L623.27,424.57 L624.57,423.70 L626.10,423.40Z" fill="#040404"/>
<path d="M626.10,462.98 L627.74,462.90 L629.38,463.04 L631.02,463.23 L632.66,463.28 L634.30,463.13 L635.93,462.97 L637.57,462.88 L639.21,462.78 L640.85,462.56 L642.49,462.34 L644.13,462.31 L645.77,462.54 L647.41,462.81 L649.05,462.89 L650.69,462.73 L652.32,462.55 L653.96,462.45 L655.60,462.38 L657.24,462.21 L658.88,462.02 L660.52,461.98 L662.16,462.14 L663.80,462.29 L665.44,462.23 L667.08,462.03 L668.71,461.94 L670.35,462.08 L671.99,462.34 L673.63,462.56 L675.27,462.72 L676.91,462.93 L678.55,463.20 L680.19,463.34 L681.83,463.20 L683.47,462.90 L685.10,462.71 L686.74,462.76 L688.38,462.90 L690.02,462.94 L691.66,462.87 L693.30,462.60 L694.83,462.90 L696.13,463.77 L697.00,465.07 L697.30,466.60 L697.05,466.60 L696.99,468.23 L696.97,469.85 L697.12,471.48 L697.31,473.11 L697.34,474.73 L697.15,476.36 L696.96,477.99 L696.98,479.61 L697.22,481.24 L697.48,482.87 L697.65,484.49 L697.80,486.12 L698.01,487.75 L698.19,489.37 L697.30,491.00 L697.00,492.53 L696.13,493.83 L694.83,494.70 L693.30,495.00 L693.30,495.86 L691.66,495.58 L690.02,495.28 L688.38,495.18 L686.74,495.25 L685.10,495.29 L683.47,495.16 L681.83,494.97 L680.19,494.87 L678.55,494.84 L676.91,494.74 L675.27,494.55 L673.63,494.46 L671.99,494.63 L670.35,494.93 L668.71,495.10 L667.08,495.01 L665.44,494.79 L663.80,494.65 L662.16,494.59 L660.52,494.50 L658.88,494.37 L657.24,494.35 L655.60,494.56 L653.96,494.88 L652.32,495.06 L650.69,495.01 L649.05,494.93 L647.41,495.02 L645.77,495.26 L644.13,495.47 L642.49,495.55 L640.85,495.62 L639.21,495.74 L637.57,495.82 L635.93,495.67 L634.30,495.30 L632.66,494.96 L631.02,494.87 L629.38,494.98 L627.74,495.09 L626.10,495.00 L624.57,494.70 L623.27,493.83 L622.40,492.53 L622.10,491.00 L622.02,491.00 L622.06,489.37 L622.01,487.75 L621.96,486.12 L622.05,484.49 L622.29,482.87 L622.47,481.24 L622.42,479.61 L622.24,477.99 L622.18,476.36 L622.33,474.73 L622.57,473.11 L622.70,471.48 L622.73,469.85 L622.77,468.23 L622.10,466.60 L622.40,465.07 L623.27,463.77 L624.57,462.90 L626.10,462.60Z" fill="#040404"/>
<path d="M276.60,159.29 L278.21,159.32 L279.81,159.42 L281.42,159.56 L283.03,159.62 L284.63,159.58 L286.24,159.59 L287.85,159.76 L289.46,160.03 L291.06,160.21 L292.67,160.20 L294.28,160.06 L295.88,159.95 L297.49,159.89 L299.10,159.78 L300.70,159.62 L302.31,159.52 L303.92,159.58 L305.52,159.77 L307.13,159.88 L308.74,159.82 L310.35,159.66 L311.95,159.55 L313.56,159.56 L315.17,159.58 L316.77,159.52 L318.38,159.44 L319.99,159.44 L321.59,159.49 L323.20,159.46 L324.81,159.27 L326.42,159.02 L328.02,158.90 L329.63,158.98 L331.24,159.17 L332.84,159.33 L334.45,159.43 L336.06,159.57 L337.66,159.76 L339.27,159.88 L340.88,159.84 L342.48,159.72 L344.09,159.67 L345.70,159.79 L347.31,159.96 L348.91,160.01 L350.52,159.92 L352.13,159.82 L353.73,159.78 L355.34,159.77 L356.95,159.70 L358.55,159.61 L360.16,159.62 L361.77,159.80 L363.38,160.01 L364.98,160.07 L366.59,159.94 L368.20,159.73 L369.80,159.59 L371.41,159.51 L373.02,159.39 L374.62,159.23 L376.23,159.14 L377.84,159.20 L379.44,159.31 L381.05,159.31 L382.66,159.18 L384.27,159.05 L385.87,159.08 L387.48,159.26 L389.09,159.45 L390.69,159.57 L392.30,159.60 L393.26,159.79 L394.07,160.33 L394.61,161.14 L394.80,162.10 L394.74,162.10 L394.61,163.76 L394.49,165.42 L394.52,167.08 L394.72,168.74 L394.90,170.41 L394.90,172.07 L394.73,173.73 L394.58,175.39 L394.55,177.05 L394.55,178.71 L394.49,180.37 L394.42,182.03 L394.45,183.69 L394.57,185.36 L394.62,187.02 L394.52,188.68 L394.38,190.34 L394.80,192.00 L394.61,192.96 L394.07,193.77 L393.26,194.31 L392.30,194.50 L392.30,194.09 L390.69,194.29 L389.09,194.54 L387.48,194.72 L385.87,194.82 L384.27,194.94 L382.66,195.06 L381.05,195.08 L379.44,194.92 L377.84,194.70 L376.23,194.60 L374.62,194.67 L373.02,194.78 L371.41,194.78 L369.80,194.67 L368.20,194.58 L366.59,194.57 L364.98,194.56 L363.38,194.48 L361.77,194.38 L360.16,194.38 L358.55,194.54 L356.95,194.69 L355.34,194.67 L353.73,194.46 L352.13,194.23 L350.52,194.10 L348.91,194.04 L347.31,193.97 L345.70,193.90 L344.09,193.94 L342.48,194.13 L340.88,194.35 L339.27,194.44 L337.66,194.38 L336.06,194.33 L334.45,194.41 L332.84,194.61 L331.24,194.76 L329.63,194.82 L328.02,194.84 L326.42,194.91 L324.81,194.96 L323.20,194.86 L321.59,194.64 L319.99,194.45 L318.38,194.44 L316.77,194.60 L315.17,194.76 L313.56,194.81 L311.95,194.78 L310.35,194.79 L308.74,194.82 L307.13,194.75 L305.52,194.57 L303.92,194.40 L302.31,194.36 L300.70,194.45 L299.10,194.49 L297.49,194.37 L295.88,194.14 L294.28,193.99 L292.67,193.95 L291.06,193.95 L289.46,193.94 L287.85,193.97 L286.24,194.14 L284.63,194.43 L283.03,194.66 L281.42,194.68 L279.81,194.56 L278.21,194.48 L276.60,194.50 L275.64,194.31 L274.83,193.77 L274.29,192.96 L274.10,192.00 L274.08,192.00 L274.00,190.34 L273.99,188.68 L274.01,187.02 L273.96,185.36 L273.83,183.69 L273.78,182.03 L273.89,180.37 L274.05,178.71 L274.06,177.05 L273.89,175.39 L273.69,173.73 L273.62,172.07 L273.65,170.41 L273.69,168.74 L273.73,167.08 L273.88,165.42 L274.16,163.76 L274.10,162.10 L274.29,161.14 L274.83,160.33 L275.64,159.79 L276.60,159.60Z" fill="#fff" stroke="#0a0a0a" stroke-width="2.80" stroke-linejoin="round"/>
<path d="M201.50,255.11 L203.12,255.08 L204.75,254.92 L206.37,254.68 L207.99,254.54 L209.62,254.58 L211.24,254.66 L212.86,254.63 L214.49,254.46 L216.11,254.31 L217.73,254.26 L219.36,254.29 L220.98,254.30 L222.60,254.31 L224.23,254.44 L225.85,254.72 L227.47,254.99 L229.10,255.08 L230.72,254.98 L232.34,254.85 L233.97,254.83 L235.59,254.88 L237.21,254.90 L238.83,254.87 L240.46,254.90 L242.08,255.03 L243.70,255.15 L245.33,255.13 L246.95,254.98 L248.57,254.88 L250.20,254.95 L251.82,255.13 L253.44,255.24 L255.07,255.22 L256.69,255.16 L258.31,255.12 L259.94,255.04 L261.56,254.83 L263.18,254.52 L264.81,254.30 L266.43,254.29 L268.05,254.43 L269.68,254.51 L271.30,254.80 L272.26,254.99 L273.07,255.53 L273.61,256.34 L273.80,257.30 L274.12,257.30 L274.17,258.91 L274.14,260.51 L274.07,262.12 L274.04,263.73 L274.08,265.33 L274.06,266.94 L273.90,268.54 L273.68,270.15 L273.58,271.76 L273.68,273.36 L273.86,274.97 L273.94,276.57 L273.91,278.18 L273.86,279.79 L273.84,281.39 L273.80,283.00 L273.61,283.96 L273.07,284.77 L272.26,285.31 L271.30,285.50 L271.30,285.47 L269.68,285.27 L268.05,285.03 L266.43,284.90 L264.81,284.99 L263.18,285.15 L261.56,285.22 L259.94,285.17 L258.31,285.13 L256.69,285.20 L255.07,285.32 L253.44,285.40 L251.82,285.44 L250.20,285.57 L248.57,285.81 L246.95,286.03 L245.33,286.06 L243.70,285.89 L242.08,285.70 L240.46,285.62 L238.83,285.63 L237.21,285.62 L235.59,285.59 L233.97,285.62 L232.34,285.75 L230.72,285.88 L229.10,285.85 L227.47,285.67 L225.85,285.52 L224.23,285.52 L222.60,285.61 L220.98,285.65 L219.36,285.56 L217.73,285.44 L216.11,285.37 L214.49,285.30 L212.86,285.13 L211.24,284.89 L209.62,284.75 L207.99,284.85 L206.37,285.10 L204.75,285.30 L203.12,285.37 L201.50,285.50 L200.54,285.31 L199.73,284.77 L199.19,283.96 L199.00,283.00 L199.11,283.00 L199.04,281.39 L198.94,279.79 L198.93,278.18 L198.99,276.57 L199.01,274.97 L198.89,273.36 L198.70,271.76 L198.62,270.15 L198.73,268.54 L198.90,266.94 L198.97,265.33 L198.93,263.73 L198.86,262.12 L198.83,260.51 L198.78,258.91 L199.00,257.30 L199.19,256.34 L199.73,255.53 L200.54,254.99 L201.50,254.80Z" fill="#fff" stroke="#0a0a0a" stroke-width="2.80" stroke-linejoin="round"/>
<path d="M304.50,253.20 L306.11,253.14 L307.72,253.21 L309.33,253.30 L310.94,253.24 L312.55,252.99 L314.16,252.71 L315.77,252.55 L317.37,252.53 L318.98,252.55 L320.59,252.54 L322.20,252.61 L323.81,252.79 L325.42,253.02 L327.03,253.13 L328.64,253.06 L330.25,252.95 L331.86,252.96 L333.47,253.10 L335.08,253.24 L336.69,253.27 L338.30,253.24 L339.90,253.26 L341.51,253.32 L343.12,253.29 L344.73,253.16 L346.34,253.04 L347.95,253.10 L349.56,253.33 L351.17,253.56 L352.78,253.65 L354.39,253.60 L356.00,253.54 L357.61,253.50 L359.22,253.41 L360.83,253.20 L362.43,252.99 L364.04,252.91 L365.65,252.97 L367.26,253.03 L368.87,252.94 L370.48,252.74 L372.09,252.60 L373.70,253.10 L374.66,253.29 L375.47,253.83 L376.01,254.64 L376.20,255.60 L376.70,255.60 L376.63,257.21 L376.59,258.82 L376.55,260.44 L376.43,262.05 L376.21,263.66 L376.05,265.27 L376.09,266.88 L376.29,268.49 L376.45,270.11 L376.45,271.72 L376.35,273.33 L376.28,274.94 L376.25,276.55 L376.18,278.16 L376.02,279.78 L375.88,281.39 L376.20,283.00 L376.01,283.96 L375.47,284.77 L374.66,285.31 L373.70,285.50 L373.70,285.18 L372.09,285.29 L370.48,285.32 L368.87,285.20 L367.26,284.99 L365.65,284.89 L364.04,284.95 L362.43,285.08 L360.83,285.19 L359.22,285.30 L357.61,285.50 L356.00,285.76 L354.39,285.91 L352.78,285.86 L351.17,285.69 L349.56,285.59 L347.95,285.64 L346.34,285.74 L344.73,285.77 L343.12,285.72 L341.51,285.72 L339.90,285.77 L338.30,285.79 L336.69,285.69 L335.08,285.54 L333.47,285.51 L331.86,285.65 L330.25,285.84 L328.64,285.91 L327.03,285.81 L325.42,285.65 L323.81,285.54 L322.20,285.42 L320.59,285.22 L318.98,284.99 L317.37,284.89 L315.77,284.99 L314.16,285.16 L312.55,285.24 L310.94,285.17 L309.33,285.10 L307.72,285.14 L306.11,285.27 L304.50,285.50 L303.54,285.31 L302.73,284.77 L302.19,283.96 L302.00,283.00 L302.13,283.00 L302.09,281.39 L302.01,279.78 L301.84,278.16 L301.67,276.55 L301.66,274.94 L301.85,273.33 L302.05,271.72 L302.10,270.11 L302.00,268.49 L301.89,266.88 L301.83,265.27 L301.77,263.66 L301.63,262.05 L301.49,260.44 L301.48,258.82 L301.64,257.21 L302.00,255.60 L302.19,254.64 L302.73,253.83 L303.54,253.29 L304.50,253.10Z" fill="#fff" stroke="#0a0a0a" stroke-width="2.80" stroke-linejoin="round"/>
<path d="M385.20,366.73 L386.83,366.72 L388.45,366.75 L390.08,366.86 L391.70,366.97 L393.33,367.00 L394.96,367.03 L396.58,367.17 L398.21,367.42 L399.83,367.58 L401.46,367.52 L403.09,367.31 L404.71,367.11 L406.34,367.03 L407.97,366.99 L409.59,366.92 L411.22,366.86 L412.84,366.91 L414.47,367.06 L416.10,367.15 L417.72,367.06 L419.35,366.86 L420.97,366.73 L422.60,366.76 L424.23,366.84 L425.85,366.84 L427.48,366.75 L429.10,366.69 L430.73,366.68 L432.36,366.62 L433.98,366.45 L435.61,366.24 L437.23,366.21 L438.86,366.40 L440.49,366.68 L442.11,366.86 L443.74,366.94 L445.37,367.01 L446.99,367.12 L448.62,367.19 L450.24,367.14 L451.87,367.05 L453.50,367.05 L455.12,367.20 L456.75,367.35 L458.37,367.33 L460.00,366.90 L460.96,367.09 L461.77,367.63 L462.31,368.44 L462.50,369.40 L462.24,369.40 L462.40,371.05 L462.43,372.71 L462.41,374.36 L462.42,376.02 L462.43,377.67 L462.34,379.32 L462.16,380.98 L462.06,382.63 L462.17,384.28 L462.45,385.94 L462.67,387.59 L462.75,389.25 L462.50,390.90 L462.31,391.86 L461.77,392.67 L460.96,393.21 L460.00,393.40 L460.00,393.67 L458.37,393.74 L456.75,393.83 L455.12,393.84 L453.50,393.76 L451.87,393.71 L450.24,393.80 L448.62,393.92 L446.99,393.90 L445.37,393.68 L443.74,393.40 L442.11,393.24 L440.49,393.20 L438.86,393.18 L437.23,393.14 L435.61,393.16 L433.98,393.30 L432.36,393.46 L430.73,393.48 L429.10,393.31 L427.48,393.11 L425.85,393.04 L424.23,393.10 L422.60,393.15 L420.97,393.12 L419.35,393.08 L417.72,393.12 L416.10,393.19 L414.47,393.18 L412.84,393.07 L411.22,393.03 L409.59,393.18 L407.97,393.49 L406.34,393.76 L404.71,393.87 L403.09,393.88 L401.46,393.90 L399.83,393.91 L398.21,393.83 L396.58,393.64 L394.96,393.49 L393.33,393.51 L391.70,393.64 L390.08,393.70 L388.45,393.60 L386.83,393.42 L385.20,393.40 L384.24,393.21 L383.43,392.67 L382.89,391.86 L382.70,390.90 L382.77,390.90 L382.75,389.25 L382.74,387.59 L382.78,385.94 L382.79,384.28 L382.69,382.63 L382.56,380.98 L382.59,379.32 L382.83,377.67 L383.11,376.02 L383.25,374.36 L383.24,372.71 L383.19,371.05 L382.70,369.40 L382.89,368.44 L383.43,367.63 L384.24,367.09 L385.20,366.90Z" fill="#fff" stroke="#0a0a0a" stroke-width="2.80" stroke-linejoin="round"/>
<path d="M260.30,457.08 L261.92,457.23 L263.55,457.38 L265.17,457.43 L266.80,457.36 L268.42,457.31 L270.05,457.42 L271.67,457.64 L273.30,457.78 L274.92,457.75 L276.54,457.63 L278.17,457.57 L279.79,457.56 L281.42,457.51 L283.04,457.42 L284.67,457.40 L286.29,457.56 L287.92,457.81 L289.54,457.96 L291.16,457.89 L292.79,457.72 L294.41,457.60 L296.04,457.55 L297.66,457.47 L299.29,457.33 L300.91,457.20 L302.54,457.19 L304.16,457.24 L305.78,457.20 L307.41,457.00 L309.03,456.79 L310.66,456.75 L312.28,456.89 L313.91,457.08 L315.53,457.19 L317.16,457.28 L318.78,457.41 L320.40,457.54 L322.03,457.56 L323.65,457.40 L325.28,457.23 L326.90,457.21 L328.53,457.36 L330.15,457.52 L331.78,457.56 L333.40,457.40 L334.36,457.59 L335.17,458.13 L335.71,458.94 L335.90,459.90 L335.76,459.90 L335.74,461.54 L335.66,463.17 L335.62,464.81 L335.67,466.45 L335.70,468.09 L335.60,469.73 L335.38,471.36 L335.26,473.00 L335.36,474.64 L335.60,476.27 L335.81,477.91 L335.94,479.55 L336.06,481.19 L336.23,482.83 L336.33,484.46 L335.90,486.10 L335.71,487.06 L335.17,487.87 L334.36,488.41 L333.40,488.60 L333.40,488.98 L331.78,488.82 L330.15,488.74 L328.53,488.82 L326.90,488.96 L325.28,489.00 L323.65,488.90 L322.03,488.78 L320.40,488.73 L318.78,488.72 L317.16,488.66 L315.53,488.57 L313.91,488.58 L312.28,488.75 L310.66,488.94 L309.03,488.95 L307.41,488.77 L305.78,488.53 L304.16,488.38 L302.54,488.30 L300.91,488.21 L299.29,488.09 L297.66,488.06 L296.04,488.17 L294.41,488.32 L292.79,488.34 L291.16,488.24 L289.54,488.17 L287.92,488.26 L286.29,488.49 L284.67,488.68 L283.04,488.77 L281.42,488.83 L279.79,488.93 L278.17,489.00 L276.54,488.91 L274.92,488.69 L273.30,488.53 L271.67,488.56 L270.05,488.74 L268.42,488.89 L266.80,488.91 L265.17,488.89 L263.55,488.92 L261.92,488.97 L260.30,488.60 L259.34,488.41 L258.53,487.87 L257.99,487.06 L257.80,486.10 L257.48,486.10 L257.62,484.46 L257.72,482.83 L257.67,481.19 L257.56,479.55 L257.57,477.91 L257.77,476.27 L258.04,474.64 L258.21,473.00 L258.28,471.36 L258.34,469.73 L258.41,468.09 L258.37,466.45 L258.17,464.81 L257.92,463.17 L257.80,461.54 L257.80,459.90 L257.99,458.94 L258.53,458.13 L259.34,457.59 L260.30,457.40Z" fill="#fff" stroke="#0a0a0a" stroke-width="2.80" stroke-linejoin="round"/>
<path d="M462.30,451.18 L463.91,451.22 L465.51,451.31 L467.12,451.37 L468.73,451.44 L470.33,451.62 L471.94,451.89 L473.54,452.09 L475.15,452.08 L476.76,451.89 L478.36,451.72 L479.97,451.66 L481.58,451.66 L483.18,451.61 L484.79,451.49 L486.40,451.42 L488.00,451.44 L489.61,451.44 L491.21,451.31 L492.82,451.09 L494.43,450.97 L496.03,451.05 L497.64,451.24 L499.25,451.36 L500.85,451.36 L502.46,451.32 L504.07,451.30 L505.67,451.28 L507.28,451.15 L508.89,450.95 L510.49,450.83 L512.10,450.92 L513.70,451.14 L515.31,451.30 L516.92,451.33 L518.52,451.31 L520.13,451.37 L521.74,451.50 L523.34,451.60 L524.95,451.62 L526.56,451.67 L528.16,451.83 L529.77,452.03 L531.37,452.08 L532.98,451.92 L534.59,451.66 L536.19,451.48 L537.80,451.40 L538.76,451.59 L539.57,452.13 L540.11,452.94 L540.30,453.90 L540.27,453.90 L540.28,455.54 L540.33,457.18 L540.36,458.82 L540.27,460.46 L540.14,462.10 L540.11,463.73 L540.27,465.37 L540.47,467.01 L540.54,468.65 L540.46,470.29 L540.39,471.93 L540.43,473.57 L540.53,475.21 L540.58,476.85 L540.60,478.49 L540.68,480.13 L540.85,481.77 L540.96,483.40 L540.85,485.04 L540.56,486.68 L540.28,488.32 L540.15,489.96 L540.30,491.60 L540.11,492.56 L539.57,493.37 L538.76,493.91 L537.80,494.10 L537.80,493.92 L536.19,493.86 L534.59,493.78 L532.98,493.77 L531.37,493.85 L529.77,493.93 L528.16,493.88 L526.56,493.72 L524.95,493.65 L523.34,493.75 L521.74,493.95 L520.13,494.08 L518.52,494.07 L516.92,494.03 L515.31,494.02 L513.70,494.02 L512.10,493.93 L510.49,493.78 L508.89,493.73 L507.28,493.89 L505.67,494.18 L504.07,494.40 L502.46,494.46 L500.85,494.45 L499.25,494.48 L497.64,494.55 L496.03,494.55 L494.43,494.47 L492.82,494.40 L491.21,494.45 L489.61,494.54 L488.00,494.52 L486.40,494.30 L484.79,494.02 L483.18,493.84 L481.58,493.81 L479.97,493.84 L478.36,493.84 L476.76,493.85 L475.15,493.96 L473.54,494.11 L471.94,494.16 L470.33,494.03 L468.73,493.81 L467.12,493.70 L465.51,493.75 L463.91,493.84 L462.30,494.10 L461.34,493.91 L460.53,493.37 L459.99,492.56 L459.80,491.60 L460.04,491.60 L460.08,489.96 L460.08,488.32 L460.00,486.68 L459.96,485.04 L460.01,483.40 L460.07,481.77 L459.95,480.13 L459.66,478.49 L459.36,476.85 L459.23,475.21 L459.26,473.57 L459.30,471.93 L459.32,470.29 L459.39,468.65 L459.56,467.01 L459.73,465.37 L459.75,463.73 L459.63,462.10 L459.55,460.46 L459.63,458.82 L459.82,457.18 L459.93,455.54 L459.80,453.90 L459.99,452.94 L460.53,452.13 L461.34,451.59 L462.30,451.40Z" fill="#fff" stroke="#0a0a0a" stroke-width="2.80" stroke-linejoin="round"/>
<path d="M631.20,155.64 L632.83,155.58 L634.46,155.64 L636.10,155.79 L637.73,155.84 L639.36,155.71 L640.99,155.51 L642.63,155.43 L644.26,155.51 L645.89,155.65 L647.52,155.77 L649.16,155.89 L650.79,156.11 L652.42,156.36 L654.05,156.47 L655.69,156.39 L657.32,156.22 L658.95,156.15 L660.58,156.23 L662.22,156.30 L663.85,156.26 L665.48,156.15 L667.11,156.08 L668.75,156.06 L670.38,155.98 L672.01,155.79 L673.64,155.64 L675.28,155.67 L676.91,155.86 L678.54,156.04 L680.17,156.05 L681.81,155.93 L683.44,155.82 L685.07,155.76 L686.70,155.65 L688.34,155.48 L689.97,155.34 L691.60,155.90 L692.56,156.09 L693.37,156.63 L693.91,157.44 L694.10,158.40 L694.63,158.40 L694.45,160.05 L694.32,161.70 L694.34,163.35 L694.43,165.00 L694.42,166.65 L694.28,168.30 L694.11,169.95 L694.01,171.60 L693.91,173.25 L693.73,174.90 L693.54,176.55 L693.50,178.20 L693.69,179.85 L693.94,181.50 L694.05,183.15 L694.00,184.80 L693.93,186.45 L694.10,188.10 L693.91,189.06 L693.37,189.87 L692.56,190.41 L691.60,190.60 L691.60,190.44 L689.97,190.45 L688.34,190.39 L686.70,190.31 L685.07,190.34 L683.44,190.51 L681.81,190.66 L680.17,190.66 L678.54,190.53 L676.91,190.46 L675.28,190.55 L673.64,190.73 L672.01,190.86 L670.38,190.95 L668.75,191.07 L667.11,191.24 L665.48,191.31 L663.85,191.17 L662.22,190.89 L660.58,190.67 L658.95,190.62 L657.32,190.66 L655.69,190.63 L654.05,190.53 L652.42,190.47 L650.79,190.48 L649.16,190.48 L647.52,190.37 L645.89,190.22 L644.26,190.20 L642.63,190.37 L640.99,190.57 L639.36,190.63 L637.73,190.53 L636.10,190.40 L634.46,190.34 L632.83,190.29 L631.20,190.60 L630.24,190.41 L629.43,189.87 L628.89,189.06 L628.70,188.10 L629.11,188.10 L629.21,186.45 L629.14,184.80 L628.90,183.15 L628.63,181.50 L628.52,179.85 L628.55,178.20 L628.57,176.55 L628.47,174.90 L628.34,173.25 L628.29,171.60 L628.30,169.95 L628.26,168.30 L628.16,166.65 L628.15,165.00 L628.35,163.35 L628.65,161.70 L628.84,160.05 L628.70,158.40 L628.89,157.44 L629.43,156.63 L630.24,156.09 L631.20,155.90Z" fill="#fff" stroke="#0a0a0a" stroke-width="2.80" stroke-linejoin="round"/>
<path d="M965.3,130.7 H972.3 V223.9 H823.6 V216.9 H965.3 V130.7 Z" fill="url(#dots)"/>
<path d="M821.70,126.04 L823.31,126.02 L824.92,126.04 L826.52,126.12 L828.13,126.17 L829.74,126.12 L831.35,126.07 L832.96,126.16 L834.56,126.35 L836.17,126.50 L837.78,126.46 L839.39,126.30 L841.00,126.19 L842.60,126.21 L844.21,126.29 L845.82,126.35 L847.43,126.40 L849.04,126.56 L850.64,126.80 L852.25,126.97 L853.86,126.93 L855.47,126.73 L857.08,126.56 L858.68,126.51 L860.29,126.53 L861.90,126.47 L863.51,126.35 L865.11,126.25 L866.72,126.23 L868.33,126.19 L869.94,126.04 L871.55,125.83 L873.15,125.72 L874.76,125.83 L876.37,126.06 L877.98,126.21 L879.59,126.24 L881.19,126.21 L882.80,126.22 L884.41,126.22 L886.02,126.12 L887.63,125.96 L889.23,125.88 L890.84,125.99 L892.45,126.21 L894.06,126.34 L895.67,126.33 L897.27,126.28 L898.88,126.32 L900.49,126.44 L902.10,126.54 L903.71,126.58 L905.31,126.64 L906.92,126.80 L908.53,126.98 L910.14,127.00 L911.75,126.80 L913.35,126.52 L914.96,126.33 L916.57,126.27 L918.18,126.25 L919.79,126.19 L921.39,126.14 L923.00,126.18 L924.61,126.29 L926.22,126.31 L927.82,126.17 L929.43,126.00 L931.04,125.95 L932.65,126.07 L934.26,126.20 L935.86,126.22 L937.47,126.14 L939.08,126.08 L940.69,126.07 L942.30,126.01 L943.90,125.87 L945.51,125.75 L947.12,125.80 L948.73,126.05 L950.34,126.35 L951.94,126.51 L953.55,126.55 L955.16,126.57 L956.77,126.65 L958.38,126.71 L959.98,126.68 L961.59,126.59 L963.20,126.30 L964.16,126.49 L964.97,127.03 L965.51,127.84 L965.70,128.80 L965.41,128.80 L965.29,130.42 L965.20,132.05 L965.29,133.67 L965.53,135.29 L965.74,136.91 L965.81,138.54 L965.77,140.16 L965.75,141.78 L965.76,143.40 L965.70,145.03 L965.56,146.65 L965.47,148.27 L965.57,149.89 L965.82,151.52 L966.04,153.14 L966.09,154.76 L966.04,156.38 L966.03,158.01 L966.08,159.63 L966.12,161.25 L966.06,162.88 L965.99,164.50 L966.02,166.12 L966.10,167.74 L966.07,169.37 L965.85,170.99 L965.53,172.61 L965.31,174.23 L965.28,175.86 L965.31,177.48 L965.33,179.10 L965.34,180.72 L965.44,182.35 L965.61,183.97 L965.68,185.59 L965.57,187.22 L965.40,188.84 L965.34,190.46 L965.44,192.08 L965.58,193.71 L965.62,195.33 L965.57,196.95 L965.56,198.57 L965.61,200.20 L965.63,201.82 L965.57,203.44 L965.51,205.06 L965.62,206.69 L965.90,208.31 L966.19,209.93 L966.32,211.55 L966.28,213.18 L965.70,214.80 L965.51,215.76 L964.97,216.57 L964.16,217.11 L963.20,217.30 L963.20,217.81 L961.59,217.77 L959.98,217.72 L958.38,217.57 L956.77,217.39 L955.16,217.32 L953.55,217.40 L951.94,217.47 L950.34,217.38 L948.73,217.17 L947.12,217.00 L945.51,216.98 L943.90,217.05 L942.30,217.10 L940.69,217.10 L939.08,217.15 L937.47,217.28 L935.86,217.36 L934.26,217.26 L932.65,217.01 L931.04,216.80 L929.43,216.77 L927.82,216.89 L926.22,216.99 L924.61,217.03 L923.00,217.09 L921.39,217.24 L919.79,217.39 L918.18,217.44 L916.57,217.39 L914.96,217.38 L913.35,217.53 L911.75,217.78 L910.14,217.93 L908.53,217.90 L906.92,217.76 L905.31,217.65 L903.71,217.57 L902.10,217.44 L900.49,217.26 L898.88,217.14 L897.27,217.21 L895.67,217.40 L894.06,217.52 L892.45,217.46 L890.84,217.31 L889.23,217.22 L887.63,217.22 L886.02,217.21 L884.41,217.13 L882.80,217.05 L881.19,217.06 L879.59,217.14 L877.98,217.14 L876.37,216.97 L874.76,216.74 L873.15,216.65 L871.55,216.75 L869.94,216.94 L868.33,217.09 L866.72,217.21 L865.11,217.38 L863.51,217.58 L861.90,217.70 L860.29,217.64 L858.68,217.49 L857.08,217.43 L855.47,217.53 L853.86,217.67 L852.25,217.69 L850.64,217.61 L849.04,217.52 L847.43,217.50 L845.82,217.48 L844.21,217.38 L842.60,217.26 L841.00,217.27 L839.39,217.44 L837.78,217.65 L836.17,217.69 L834.56,217.55 L832.96,217.35 L831.35,217.22 L829.74,217.13 L828.13,216.99 L826.52,216.83 L824.92,216.76 L823.31,216.85 L821.70,217.30 L820.74,217.11 L819.93,216.57 L819.39,215.76 L819.20,214.80 L819.50,214.80 L819.48,213.18 L819.59,211.55 L819.68,209.93 L819.62,208.31 L819.43,206.69 L819.26,205.06 L819.16,203.44 L819.07,201.82 L818.92,200.20 L818.80,198.57 L818.85,196.95 L819.06,195.33 L819.25,193.71 L819.26,192.08 L819.11,190.46 L818.98,188.84 L818.94,187.22 L818.94,185.59 L818.87,183.97 L818.80,182.35 L818.83,180.72 L818.97,179.10 L819.08,177.48 L819.04,175.86 L818.91,174.23 L818.88,172.61 L819.03,170.99 L819.27,169.37 L819.45,167.74 L819.56,166.12 L819.67,164.50 L819.80,162.88 L819.84,161.25 L819.69,159.63 L819.44,158.01 L819.28,156.38 L819.29,154.76 L819.39,153.14 L819.41,151.52 L819.32,149.89 L819.24,148.27 L819.23,146.65 L819.23,145.03 L819.14,143.40 L819.02,141.78 L819.00,140.16 L819.14,138.54 L819.30,136.91 L819.30,135.29 L819.12,133.67 L818.91,132.05 L818.79,130.42 L819.20,128.80 L819.39,127.84 L819.93,127.03 L820.74,126.49 L821.70,126.30Z" fill="#fff" stroke="#0a0a0a" stroke-width="3.20" stroke-linejoin="round"/>
<path d="M964.4,233.9 H971.4 V323.6 H824.5 V316.6 H964.4 V233.9 Z" fill="url(#dots)"/>
<path d="M822.60,229.06 L824.21,228.89 L825.81,228.92 L827.42,229.08 L829.02,229.18 L830.63,229.19 L832.23,229.18 L833.84,229.26 L835.45,229.38 L837.05,229.44 L838.66,229.44 L840.26,229.50 L841.87,229.72 L843.47,229.97 L845.08,230.09 L846.69,229.99 L848.29,229.81 L849.90,229.69 L851.50,229.66 L853.11,229.62 L854.71,229.54 L856.32,229.53 L857.93,229.65 L859.53,229.83 L861.14,229.90 L862.74,229.78 L864.35,229.59 L865.96,229.51 L867.56,229.54 L869.17,229.58 L870.77,229.52 L872.38,229.42 L873.98,229.37 L875.59,229.36 L877.20,229.27 L878.80,229.04 L880.41,228.81 L882.01,228.76 L883.62,228.93 L885.22,229.17 L886.83,229.32 L888.44,229.39 L890.04,229.47 L891.65,229.59 L893.25,229.66 L894.86,229.59 L896.46,229.49 L898.07,229.50 L899.68,229.66 L901.28,229.83 L902.89,229.85 L904.49,229.73 L906.10,229.61 L907.70,229.60 L909.31,229.64 L910.92,229.64 L912.52,229.63 L914.13,229.70 L915.73,229.90 L917.34,230.07 L918.94,230.05 L920.55,229.84 L922.16,229.59 L923.76,229.45 L925.37,229.40 L926.97,229.32 L928.58,229.20 L930.19,229.12 L931.79,229.16 L933.40,229.23 L935.00,229.19 L936.61,229.03 L938.21,228.92 L939.82,229.00 L941.43,229.23 L943.03,229.43 L944.64,229.52 L946.24,229.54 L947.85,229.59 L949.45,229.63 L951.06,229.57 L952.67,229.40 L954.27,229.26 L955.88,229.32 L957.48,229.53 L959.09,229.72 L960.69,229.78 L962.30,229.50 L963.26,229.69 L964.07,230.23 L964.61,231.04 L964.80,232.00 L964.54,232.00 L964.53,233.62 L964.45,235.24 L964.41,236.85 L964.46,238.47 L964.51,240.09 L964.45,241.71 L964.32,243.32 L964.29,244.94 L964.47,246.56 L964.77,248.18 L965.00,249.79 L965.11,251.41 L965.15,253.03 L965.21,254.65 L965.24,256.26 L965.15,257.88 L964.97,259.50 L964.86,261.12 L964.93,262.74 L965.09,264.35 L965.16,265.97 L965.07,267.59 L964.94,269.21 L964.89,270.82 L964.92,272.44 L964.92,274.06 L964.86,275.68 L964.84,277.29 L964.95,278.91 L965.07,280.53 L965.04,282.15 L964.81,283.76 L964.51,285.38 L964.33,287.00 L964.30,288.62 L964.29,290.24 L964.26,291.85 L964.27,293.47 L964.41,295.09 L964.60,296.71 L964.69,298.32 L964.63,299.94 L964.55,301.56 L964.62,303.18 L964.83,304.79 L965.02,306.41 L965.09,308.03 L965.07,309.65 L965.07,311.26 L965.09,312.88 L964.80,314.50 L964.61,315.46 L964.07,316.27 L963.26,316.81 L962.30,317.00 L962.30,317.23 L960.69,317.06 L959.09,316.91 L957.48,316.96 L955.88,317.17 L954.27,317.38 L952.67,317.45 L951.06,317.40 L949.45,317.35 L947.85,317.35 L946.24,317.30 L944.64,317.16 L943.03,317.00 L941.43,316.95 L939.82,317.02 L938.21,317.05 L936.61,316.91 L935.00,316.65 L933.40,316.45 L931.79,316.41 L930.19,316.47 L928.58,316.51 L926.97,316.56 L925.37,316.70 L923.76,316.93 L922.16,317.11 L920.55,317.10 L918.94,316.95 L917.34,316.82 L915.73,316.85 L914.13,316.98 L912.52,317.05 L910.92,317.04 L909.31,317.06 L907.70,317.14 L906.10,317.22 L904.49,317.19 L902.89,317.08 L901.28,317.05 L899.68,317.20 L898.07,317.45 L896.46,317.61 L894.86,317.59 L893.25,317.48 L891.65,317.39 L890.04,317.30 L888.44,317.12 L886.83,316.87 L885.22,316.69 L883.62,316.69 L882.01,316.81 L880.41,316.87 L878.80,316.78 L877.20,316.64 L875.59,316.58 L873.98,316.64 L872.38,316.71 L870.77,316.72 L869.17,316.75 L867.56,316.87 L865.96,317.05 L864.35,317.10 L862.74,316.97 L861.14,316.75 L859.53,316.64 L857.93,316.70 L856.32,316.83 L854.71,316.92 L853.11,317.00 L851.50,317.15 L849.90,317.35 L848.29,317.48 L846.69,317.43 L845.08,317.30 L843.47,317.27 L841.87,317.38 L840.26,317.52 L838.66,317.52 L837.05,317.39 L835.45,317.25 L833.84,317.15 L832.23,317.04 L830.63,316.84 L829.02,316.63 L827.42,316.58 L825.81,316.72 L824.21,316.93 L822.60,317.00 L821.64,316.81 L820.83,316.27 L820.29,315.46 L820.10,314.50 L820.08,314.50 L820.15,312.88 L820.25,311.26 L820.28,309.65 L820.29,308.03 L820.35,306.41 L820.46,304.79 L820.48,303.18 L820.36,301.56 L820.22,299.94 L820.22,298.32 L820.37,296.71 L820.48,295.09 L820.44,293.47 L820.26,291.85 L820.09,290.24 L819.97,288.62 L819.82,287.00 L819.62,285.38 L819.45,283.76 L819.47,282.15 L819.67,280.53 L819.88,278.91 L819.93,277.29 L819.87,275.68 L819.84,274.06 L819.91,272.44 L820.00,270.82 L820.02,269.21 L820.02,267.59 L820.09,265.97 L820.26,264.35 L820.36,262.74 L820.27,261.12 L820.08,259.50 L819.96,257.88 L820.03,256.26 L820.19,254.65 L820.32,253.03 L820.40,251.41 L820.51,249.79 L820.66,248.18 L820.73,246.56 L820.62,244.94 L820.38,243.32 L820.20,241.71 L820.19,240.09 L820.25,238.47 L820.21,236.85 L820.06,235.24 L819.92,233.62 L820.10,232.00 L820.29,231.04 L820.83,230.23 L821.64,229.69 L822.60,229.50Z" fill="#fff" stroke="#0a0a0a" stroke-width="3.20" stroke-linejoin="round"/>
<path d="M961.8,334.5 H968.8 V425.4 H824.5 V418.4 H961.8 V334.5 Z" fill="url(#dots)"/>
<path d="M822.60,330.57 L824.21,330.35 L825.83,330.17 L827.44,330.04 L829.05,329.89 L830.66,329.71 L832.28,329.61 L833.89,329.70 L835.50,329.89 L837.12,330.01 L838.73,329.95 L840.34,329.82 L841.96,329.77 L843.57,329.84 L845.18,329.91 L846.79,329.91 L848.41,329.90 L850.02,329.97 L851.63,330.09 L853.25,330.11 L854.86,329.96 L856.47,329.78 L858.08,329.76 L859.70,329.93 L861.31,330.15 L862.92,330.31 L864.54,330.41 L866.15,330.54 L867.76,330.68 L869.38,330.71 L870.99,330.58 L872.60,330.38 L874.21,330.30 L875.83,330.37 L877.44,330.44 L879.05,330.38 L880.67,330.21 L882.28,330.05 L883.89,329.98 L885.50,329.93 L887.12,329.82 L888.73,329.72 L890.34,329.77 L891.96,329.97 L893.57,330.17 L895.18,330.18 L896.80,330.03 L898.41,329.86 L900.02,329.79 L901.63,329.77 L903.25,329.72 L904.86,329.65 L906.47,329.68 L908.09,329.85 L909.70,330.02 L911.31,330.05 L912.92,329.96 L914.54,329.92 L916.15,330.05 L917.76,330.28 L919.38,330.46 L920.99,330.54 L922.60,330.60 L924.22,330.68 L925.83,330.71 L927.44,330.57 L929.05,330.30 L930.67,330.09 L932.28,330.07 L933.89,330.18 L935.51,330.25 L937.12,330.21 L938.73,330.15 L940.34,330.15 L941.96,330.17 L943.57,330.10 L945.18,329.96 L946.80,329.87 L948.41,329.94 L950.02,330.09 L951.64,330.13 L953.25,329.98 L954.86,329.77 L956.47,329.63 L958.09,329.59 L959.70,330.10 L960.66,330.29 L961.47,330.83 L962.01,331.64 L962.20,332.60 L962.73,332.60 L962.76,334.21 L962.72,335.82 L962.51,337.43 L962.21,339.04 L962.02,340.65 L962.01,342.26 L962.09,343.87 L962.09,345.48 L961.98,347.09 L961.88,348.70 L961.86,350.31 L961.89,351.92 L961.86,353.52 L961.79,355.13 L961.83,356.74 L962.01,358.35 L962.23,359.96 L962.30,361.57 L962.18,363.18 L962.00,364.79 L961.92,366.40 L961.94,368.01 L961.95,369.62 L961.94,371.23 L962.01,372.84 L962.22,374.45 L962.47,376.06 L962.59,377.67 L962.53,379.28 L962.44,380.89 L962.47,382.50 L962.60,384.11 L962.70,385.72 L962.69,387.33 L962.63,388.94 L962.61,390.55 L962.58,392.16 L962.44,393.77 L962.16,395.38 L961.90,396.98 L961.83,398.59 L961.95,400.20 L962.09,401.81 L962.13,403.42 L962.10,405.03 L962.09,406.64 L962.13,408.25 L962.10,409.86 L961.96,411.47 L961.82,413.08 L961.82,414.69 L962.20,416.30 L962.01,417.26 L961.47,418.07 L960.66,418.61 L959.70,418.80 L959.70,418.57 L958.09,418.69 L956.47,418.65 L954.86,418.51 L953.25,418.42 L951.64,418.46 L950.02,418.54 L948.41,418.59 L946.80,418.67 L945.18,418.87 L943.57,419.17 L941.96,419.40 L940.34,419.41 L938.73,419.26 L937.12,419.12 L935.51,419.10 L933.89,419.12 L932.28,419.08 L930.67,418.99 L929.05,418.95 L927.44,419.00 L925.83,419.01 L924.22,418.88 L922.60,418.66 L920.99,418.55 L919.38,418.63 L917.76,418.80 L916.15,418.89 L914.54,418.86 L912.92,418.80 L911.31,418.77 L909.70,418.71 L908.09,418.52 L906.47,418.28 L904.86,418.15 L903.25,418.24 L901.63,418.43 L900.02,418.56 L898.41,418.56 L896.80,418.55 L895.18,418.62 L893.57,418.75 L891.96,418.83 L890.34,418.85 L888.73,418.93 L887.12,419.13 L885.50,419.35 L883.89,419.40 L882.28,419.24 L880.67,419.02 L879.05,418.90 L877.44,418.89 L875.83,418.90 L874.21,418.86 L872.60,418.87 L870.99,418.99 L869.38,419.15 L867.76,419.17 L866.15,419.01 L864.54,418.81 L862.92,418.74 L861.31,418.80 L859.70,418.84 L858.08,418.77 L856.47,418.65 L854.86,418.58 L853.25,418.54 L851.63,418.43 L850.02,418.23 L848.41,418.07 L846.79,418.13 L845.18,418.37 L843.57,418.63 L841.96,418.77 L840.34,418.80 L838.73,418.85 L837.12,418.94 L835.50,418.97 L833.89,418.90 L832.28,418.82 L830.66,418.87 L829.05,419.05 L827.44,419.18 L825.83,419.13 L824.21,418.98 L822.60,418.80 L821.64,418.61 L820.83,418.07 L820.29,417.26 L820.10,416.30 L820.03,416.30 L820.01,414.69 L819.94,413.08 L819.92,411.47 L819.90,409.86 L819.80,408.25 L819.63,406.64 L819.54,405.03 L819.68,403.42 L819.96,401.81 L820.20,400.20 L820.30,398.59 L820.31,396.98 L820.37,395.38 L820.47,393.77 L820.51,392.16 L820.45,390.55 L820.40,388.94 L820.47,387.33 L820.60,385.72 L820.63,384.11 L820.45,382.50 L820.19,380.89 L820.02,379.28 L819.99,377.67 L820.01,376.06 L820.01,374.45 L820.01,372.84 L820.10,371.23 L820.25,369.62 L820.30,368.01 L820.15,366.40 L819.91,364.79 L819.75,363.18 L819.76,361.57 L819.81,359.96 L819.80,358.35 L819.73,356.74 L819.71,355.13 L819.77,353.52 L819.80,351.92 L819.74,350.31 L819.66,348.70 L819.72,347.09 L819.99,345.48 L820.30,343.87 L820.49,342.26 L820.51,340.65 L820.50,339.04 L820.51,337.43 L820.49,335.82 L820.37,334.21 L820.10,332.60 L820.29,331.64 L820.83,330.83 L821.64,330.29 L822.60,330.10Z" fill="#fff" stroke="#0a0a0a" stroke-width="3.20" stroke-linejoin="round"/>
<path d="M963.6,439.6 H970.6 V541.1 H828.6 V534.1 H963.6 V439.6 Z" fill="url(#dots)"/>
<path d="M826.70,435.10 L828.30,434.91 L829.91,434.79 L831.51,434.74 L833.12,434.66 L834.72,434.58 L836.33,434.61 L837.93,434.82 L839.54,435.12 L841.14,435.31 L842.75,435.32 L844.35,435.26 L845.96,435.29 L847.56,435.40 L849.17,435.48 L850.77,435.48 L852.38,435.47 L853.98,435.54 L855.59,435.64 L857.19,435.61 L858.80,435.42 L860.40,435.20 L862.00,435.13 L863.61,435.23 L865.21,435.38 L866.82,435.45 L868.42,435.46 L870.03,435.49 L871.63,435.54 L873.24,435.48 L874.84,435.26 L876.45,435.00 L878.05,434.87 L879.66,434.91 L881.26,434.98 L882.87,434.94 L884.47,434.81 L886.08,434.73 L887.68,434.73 L889.29,434.76 L890.89,434.74 L892.50,434.73 L894.10,434.86 L895.70,435.14 L897.31,435.42 L898.91,435.52 L900.52,435.43 L902.12,435.32 L903.73,435.29 L905.33,435.30 L906.94,435.27 L908.54,435.22 L910.15,435.25 L911.75,435.41 L913.36,435.57 L914.96,435.59 L916.57,435.46 L918.17,435.34 L919.78,435.36 L921.38,435.49 L922.99,435.57 L924.59,435.55 L926.20,435.51 L927.80,435.50 L929.40,435.46 L931.01,435.27 L932.61,434.96 L934.22,434.69 L935.82,434.62 L937.43,434.73 L939.03,434.84 L940.64,434.87 L942.24,434.86 L943.85,434.91 L945.45,435.00 L947.06,435.03 L948.66,434.96 L950.27,434.92 L951.87,435.02 L953.48,435.24 L955.08,435.40 L956.69,435.37 L958.29,435.23 L959.90,435.13 L961.50,435.20 L962.46,435.39 L963.27,435.93 L963.81,436.74 L964.00,437.70 L964.07,437.70 L964.04,439.33 L964.04,440.95 L964.01,442.58 L963.84,444.20 L963.57,445.83 L963.38,447.46 L963.40,449.08 L963.57,450.71 L963.69,452.33 L963.70,453.96 L963.70,455.58 L963.78,457.21 L963.90,458.84 L963.96,460.46 L963.96,462.09 L964.03,463.71 L964.24,465.34 L964.49,466.97 L964.58,468.59 L964.46,470.22 L964.27,471.84 L964.16,473.47 L964.14,475.09 L964.10,476.72 L964.04,478.35 L964.05,479.97 L964.19,481.60 L964.37,483.22 L964.40,484.85 L964.25,486.48 L964.07,488.10 L964.00,489.73 L964.05,491.35 L964.07,492.98 L963.98,494.61 L963.88,496.23 L963.85,497.86 L963.82,499.48 L963.68,501.11 L963.44,502.73 L963.27,504.36 L963.31,505.99 L963.54,507.61 L963.76,509.24 L963.88,510.86 L963.94,512.49 L964.03,514.12 L964.14,515.74 L964.14,517.37 L964.04,518.99 L963.97,520.62 L964.06,522.24 L964.25,523.87 L964.35,525.50 L964.29,527.12 L964.15,528.75 L964.09,530.37 L964.00,532.00 L963.81,532.96 L963.27,533.77 L962.46,534.31 L961.50,534.50 L961.50,534.63 L959.90,534.66 L958.29,534.65 L956.69,534.67 L955.08,534.82 L953.48,535.02 L951.87,535.09 L950.27,534.94 L948.66,534.67 L947.06,534.47 L945.45,534.39 L943.85,534.34 L942.24,534.23 L940.64,534.13 L939.03,534.13 L937.43,534.20 L935.82,534.23 L934.22,534.12 L932.61,533.97 L931.01,533.96 L929.40,534.14 L927.80,534.37 L926.20,534.51 L924.59,534.54 L922.99,534.56 L921.38,534.61 L919.78,534.60 L918.17,534.47 L916.57,534.30 L914.96,534.26 L913.36,534.43 L911.75,534.66 L910.15,534.79 L908.54,534.79 L906.94,534.77 L905.33,534.83 L903.73,534.90 L902.12,534.88 L900.52,534.81 L898.91,534.80 L897.31,534.90 L895.70,535.00 L894.10,534.93 L892.50,534.67 L890.89,534.38 L889.29,534.21 L887.68,534.16 L886.08,534.13 L884.47,534.07 L882.87,534.09 L881.26,534.23 L879.66,534.41 L878.05,534.45 L876.45,534.32 L874.84,534.17 L873.24,534.16 L871.63,534.28 L870.03,534.39 L868.42,534.39 L866.82,534.36 L865.21,534.39 L863.61,534.45 L862.00,534.43 L860.40,534.31 L858.80,534.22 L857.19,534.33 L855.59,534.60 L853.98,534.88 L852.38,535.01 L850.77,535.02 L849.17,535.02 L847.56,535.04 L845.96,534.99 L844.35,534.83 L842.75,534.65 L841.14,534.60 L839.54,534.68 L837.93,534.74 L836.33,534.64 L834.72,534.42 L833.12,534.25 L831.51,534.21 L829.91,534.24 L828.30,534.24 L826.70,534.50 L825.74,534.31 L824.93,533.77 L824.39,532.96 L824.20,532.00 L824.47,532.00 L824.39,530.37 L824.22,528.75 L824.11,527.12 L824.20,525.50 L824.44,523.87 L824.63,522.24 L824.66,520.62 L824.59,518.99 L824.55,517.37 L824.54,515.74 L824.47,514.12 L824.30,512.49 L824.16,510.86 L824.15,509.24 L824.22,507.61 L824.20,505.99 L824.00,504.36 L823.74,502.73 L823.61,501.11 L823.63,499.48 L823.70,497.86 L823.75,496.23 L823.83,494.61 L824.01,492.98 L824.24,491.35 L824.34,489.73 L824.24,488.10 L824.07,486.48 L824.01,484.85 L824.10,483.22 L824.22,481.60 L824.25,479.97 L824.24,478.35 L824.29,476.72 L824.40,475.09 L824.43,473.47 L824.34,471.84 L824.26,470.22 L824.34,468.59 L824.58,466.97 L824.79,465.34 L824.82,463.71 L824.72,462.09 L824.60,460.46 L824.51,458.84 L824.35,457.21 L824.11,455.58 L823.90,453.96 L823.86,452.33 L823.97,450.71 L824.07,449.08 L824.02,447.46 L823.87,445.83 L823.79,444.20 L823.84,442.58 L823.92,440.95 L823.93,439.33 L824.20,437.70 L824.39,436.74 L824.93,435.93 L825.74,435.39 L826.70,435.20Z" fill="#fff" stroke="#0a0a0a" stroke-width="3.20" stroke-linejoin="round"/>
<text x="457.79 479.94 502.09 523.17 545.33 565.33 578.92 600.01" y="233.03" transform="scale(0.4400,1)" font-size="19.26" font-weight="bold" font-style="normal" fill="#ffffff" stroke="#ffffff" stroke-width="0.18" stroke-linejoin="round" vector-effect="non-scaling-stroke">CREATIVE</text>
<text x="689.82 716.22 740.55 764.87 789.20 814.57 837.86" y="232.63" transform="scale(0.4400,1)" font-size="18.69" font-weight="bold" font-style="normal" fill="#ffffff" stroke="#ffffff" stroke-width="0.18" stroke-linejoin="round" vector-effect="non-scaling-stroke">MANAGER</text>
<text x="620.66 638.75 652.20 673.38 692.26 710.35" y="320.24" transform="scale(0.4400,1)" font-size="13.93" font-weight="bold" font-style="normal" fill="#ffffff" stroke="#ffffff" stroke-width="0.15" stroke-linejoin="round" vector-effect="non-scaling-stroke">TIMELY</text>
<text x="612.19 631.00 642.91 661.72 678.80 696.75 715.56" y="333.74" transform="scale(0.4400,1)" font-size="15.51" font-weight="bold" font-style="normal" fill="#ffffff" stroke="#ffffff" stroke-width="0.16" stroke-linejoin="round" vector-effect="non-scaling-stroke">&amp;&#160;CLEAR</text>
<text x="798.52 814.10 830.45 849.12 863.93 878.74 893.55 909.13 918.52" y="320.24" transform="scale(0.4400,1)" font-size="13.93" font-weight="bold" font-style="normal" fill="#ffffff" stroke="#ffffff" stroke-width="0.15" stroke-linejoin="round" vector-effect="non-scaling-stroke">HOWEVER&#160;I</text>
<text x="786.82 800.99 816.04 831.10 845.27 854.18 868.35 877.25 893.18 908.24 917.15 926.05" y="333.94" transform="scale(0.4400,1)" font-size="15.80" font-weight="bold" font-style="normal" fill="#ffffff" stroke="#ffffff" stroke-width="0.16" stroke-linejoin="round" vector-effect="non-scaling-stroke">FEEL&#160;LIKE&#160;IT</text>
<text x="440.65 458.72 476.79 494.86" y="418.54" transform="scale(0.4400,1)" font-size="15.37" font-weight="bold" font-style="normal" fill="#ffffff" stroke="#ffffff" stroke-width="0.16" stroke-linejoin="round" vector-effect="non-scaling-stroke">GOOD</text>
<text x="567.98 587.40 605.98 627.11 639.70 656.57 676.85 697.13" y="418.54" transform="scale(0.4400,1)" font-size="15.37" font-weight="bold" font-style="normal" fill="#ffffff" stroke="#ffffff" stroke-width="0.16" stroke-linejoin="round" vector-effect="non-scaling-stroke">DEMI–GOD</text>
<text x="819.28 838.05 856.81 875.58 887.45 904.49 922.39 941.16 959.93" y="455.54" transform="scale(0.4400,1)" font-size="15.51" font-weight="bold" font-style="normal" fill="#ffffff" stroke="#ffffff" stroke-width="0.16" stroke-linejoin="round" vector-effect="non-scaling-stroke">CAN&#160;TEACH</text>
<text x="830.79 851.12 869.14 881.74 900.52 913.12 930.36 949.92" y="468.94" transform="scale(0.4400,1)" font-size="13.93" font-weight="bold" font-style="normal" fill="#ffffff" stroke="#ffffff" stroke-width="0.15" stroke-linejoin="round" vector-effect="non-scaling-stroke">ME&#160;A&#160;LOT</text>
<text x="835.29 853.54 871.79 884.29 902.54 919.97 932.46 949.88" y="503.74" transform="scale(0.4400,1)" font-size="14.79" font-weight="bold" font-style="normal" fill="#ffffff" stroke="#ffffff" stroke-width="0.15" stroke-linejoin="round" vector-effect="non-scaling-stroke">EXIST&#160;TO</text>
<text x="821.19 839.70 859.85 878.36 891.94 910.45 928.95 942.53 964.32" y="516.14" transform="scale(0.4400,1)" font-size="14.79" font-weight="bold" font-style="normal" fill="#ffffff" stroke="#ffffff" stroke-width="0.15" stroke-linejoin="round" vector-effect="non-scaling-stroke">FUFILL&#160;MY</text>
<text x="850.27 869.09 882.15 900.97 914.03 934.49" y="529.14" transform="scale(0.4400,1)" font-size="14.79" font-weight="bold" font-style="normal" fill="#ffffff" stroke="#ffffff" stroke-width="0.15" stroke-linejoin="round" vector-effect="non-scaling-stroke">VISION</text>
<text x="1108.66 1130.18 1151.70 1173.22 1193.68 1213.07" y="261.33" transform="scale(0.4400,1)" font-size="19.12" font-weight="bold" font-style="normal" fill="#ffffff" stroke="#ffffff" stroke-width="0.18" stroke-linejoin="round" vector-effect="non-scaling-stroke">RARELY</text>
<text x="1091.41 1108.36 1124.58 1135.00 1149.77 1165.27 1175.69 1192.64 1207.41 1222.18 1237.68" y="299.04" transform="scale(0.4400,1)" font-size="13.06" font-weight="bold" font-style="normal" fill="#ffffff" stroke="#ffffff" stroke-width="0.14" stroke-linejoin="round" vector-effect="non-scaling-stroke">QUITE&#160;OFTEN</text>
<text x="1092.51 1100.75 1112.91 1121.15 1133.97 1142.21 1155.67 1169.79 1183.26 1198.03 1211.50 1223.65 1231.89 1240.13" y="333.55" transform="scale(0.4400,1)" font-size="11.77" font-weight="bold" font-style="normal" fill="#ffffff" stroke="#ffffff" stroke-width="0.13" stroke-linejoin="round" vector-effect="non-scaling-stroke">IT’S&#160;NORMAL&#160;IN</text>
<text x="1097.83 1111.32 1124.18 1137.03 1144.85 1152.67 1165.52 1178.38 1191.23 1203.46 1215.06 1227.91 1240.14" y="342.95" transform="scale(0.4400,1)" font-size="11.33" font-weight="bold" font-style="normal" fill="#ffffff" stroke="#ffffff" stroke-width="0.13" stroke-linejoin="round" vector-effect="non-scaling-stroke">OUR&#160;INDUSTRY!</text>
<text x="1449.91 1471.22 1492.53" y="166.34" transform="scale(0.5000,1)" font-size="23.81" font-weight="bold" font-style="normal" fill="#ffffff" stroke="#ffffff" stroke-width="0.15" stroke-linejoin="round" vector-effect="non-scaling-stroke">YES</text>
<text x="1457.52 1487.05" y="203.24" transform="scale(0.5000,1)" font-size="23.95" font-weight="bold" font-style="normal" fill="#ffffff" stroke="#ffffff" stroke-width="0.15" stroke-linejoin="round" vector-effect="non-scaling-stroke">NO</text>
<text x="1437.08 1444.16 1451.23 1458.31 1465.38 1472.45 1479.53 1491.57 1504.24 1516.29 1528.33 1539.76 1551.81" y="399.35" transform="scale(0.4400,1)" font-size="11.19" font-weight="bold" font-style="normal" fill="#ffffff" stroke="#ffffff" stroke-width="0.13" stroke-linejoin="round" vector-effect="non-scaling-stroke">...&#160;I&#160;CORRECT</text>
<text x="1423.17 1434.99 1448.05 1460.49 1474.80 1482.89 1495.33 1508.39 1521.45 1533.27 1541.36 1554.42 1566.24" y="409.15" transform="scale(0.4400,1)" font-size="11.19" font-weight="bold" font-style="normal" fill="#ffffff" stroke="#ffffff" stroke-width="0.13" stroke-linejoin="round" vector-effect="non-scaling-stroke">THEM&#160;PUBLICLY</text>
<text x="1453.89 1462.66 1471.42 1480.18 1488.94 1497.70 1506.46 1519.00 1532.17" y="439.05" transform="scale(0.4400,1)" font-size="11.33" font-weight="bold" font-style="normal" fill="#ffffff" stroke="#ffffff" stroke-width="0.13" stroke-linejoin="round" vector-effect="non-scaling-stroke">...&#160;I&#160;LET</text>
<text x="1448.16 1458.32 1472.60 1482.76 1497.73 1512.00 1522.16 1537.81" y="449.55" transform="scale(0.4400,1)" font-size="12.34" font-weight="bold" font-style="normal" fill="#ffffff" stroke="#ffffff" stroke-width="0.14" stroke-linejoin="round" vector-effect="non-scaling-stroke">IT&#160;SLIDE</text>
<text x="1421.44 1428.47 1435.49 1442.52 1449.55 1461.29 1471.85 1482.41 1489.44 1503.54 1515.87 1527.61 1539.35 1546.38 1553.41 1564.57 1571.59" y="472.85" transform="scale(0.4400,1)" font-size="10.61" font-weight="bold" font-style="normal" fill="#ffffff" stroke="#ffffff" stroke-width="0.12" stroke-linejoin="round" vector-effect="non-scaling-stroke">...&#160;ALL&#160;WORK&#160;IS&#160;A</text>
<text x="1433.73 1446.23 1458.15 1470.07 1482.56 1493.89 1505.22 1513.07 1526.15 1537.48 1545.33 1558.98" y="482.15" transform="scale(0.4400,1)" font-size="10.47" font-weight="bold" font-style="normal" fill="#ffffff" stroke="#ffffff" stroke-width="0.12" stroke-linejoin="round" vector-effect="non-scaling-stroke">RESULT&#160;OF&#160;MY</text>
<text x="1427.52 1439.49 1452.10 1459.66 1471.00 1482.34 1493.68 1501.25 1513.85 1526.45 1538.43 1553.54 1566.14" y="491.75" transform="scale(0.4400,1)" font-size="11.33" font-weight="bold" font-style="normal" fill="#ffffff" stroke="#ffffff" stroke-width="0.13" stroke-linejoin="round" vector-effect="non-scaling-stroke">SKILLZ&#160;ANYWAY</text>
<text x="635.27 663.00 686.39 710.87 725.58 748.97 772.37 794.68 809.39 831.71 856.19 879.58" y="183.67" transform="scale(0.4400,1)" font-size="19.54" font-weight="bold" font-style="normal" fill="#141414" stroke="#141414" stroke-width="0.57" stroke-linejoin="round" vector-effect="non-scaling-stroke">WHO&#160;ARE&#160;YOU?</text>
<text x="471.99 490.01 507.29 524.56 542.58 560.61 572.59 590.61" y="269.12" transform="scale(0.4400,1)" font-size="13.59" font-weight="bold" font-style="normal" fill="#141414" stroke="#141414" stroke-width="0.44" stroke-linejoin="round" vector-effect="non-scaling-stroke">DESCRIBE</text>
<text x="472.67 490.01 509.03 527.21 545.38 562.72 580.06 596.55" y="282.61" transform="scale(0.4400,1)" font-size="15.15" font-weight="bold" font-style="normal" fill="#141414" stroke="#141414" stroke-width="0.47" stroke-linejoin="round" vector-effect="non-scaling-stroke">YOURSELF</text>
<text x="702.39 718.86 736.18 753.49 771.62 789.76 807.89 826.02" y="268.71" transform="scale(0.4400,1)" font-size="14.86" font-weight="bold" font-style="normal" fill="#141414" stroke="#141414" stroke-width="0.47" stroke-linejoin="round" vector-effect="non-scaling-stroke">FEEDBACK</text>
<text x="702.96 720.56 737.35 754.96 771.75 789.36 801.35 813.33 830.94" y="281.52" transform="scale(0.4400,1)" font-size="14.44" font-weight="bold" font-style="normal" fill="#141414" stroke="#141414" stroke-width="0.46" stroke-linejoin="round" vector-effect="non-scaling-stroke">STYLE&#160;IS:</text>
<text x="879.81 894.53 909.89 919.44 933.52 948.88 963.59 978.30 987.86 1001.28 1015.36 1030.07" y="379.14" transform="scale(0.4400,1)" font-size="11.60" font-weight="bold" font-style="normal" fill="#141414" stroke="#141414" stroke-width="0.40" stroke-linejoin="round" vector-effect="non-scaling-stroke">DO&#160;YOUR&#160;TEAM</text>
<text x="893.76 910.99 926.29 940.94 955.60 965.10 978.46 993.11 1006.48 1020.49" y="390.54" transform="scale(0.4400,1)" font-size="11.60" font-weight="bold" font-style="normal" fill="#141414" stroke="#141414" stroke-width="0.40" stroke-linejoin="round" vector-effect="non-scaling-stroke">WORK&#160;LATE?</text>
<text x="599.37 617.97 634.13 651.91 668.90" y="471.22" transform="scale(0.4400,1)" font-size="14.58" font-weight="bold" font-style="normal" fill="#141414" stroke="#141414" stroke-width="0.46" stroke-linejoin="round" vector-effect="non-scaling-stroke">OTHER</text>
<text x="599.37 617.71 636.05 653.59 671.93 688.66 700.58 718.13 735.67 753.21" y="483.62" transform="scale(0.4400,1)" font-size="14.44" font-weight="bold" font-style="normal" fill="#141414" stroke="#141414" stroke-width="0.46" stroke-linejoin="round" vector-effect="non-scaling-stroke">CREATIVES:</text>
<text x="1068.28 1083.06 1095.61 1107.61 1120.16 1128.25 1140.80 1152.24 1160.33 1172.33 1184.88 1196.32" y="462.25" transform="scale(0.4400,1)" font-size="10.04" font-weight="bold" font-style="normal" fill="#141414" stroke="#141414" stroke-width="0.37" stroke-linejoin="round" vector-effect="non-scaling-stroke">WHEN&#160;CLIENTS</text>
<text x="1073.30 1081.08 1093.32 1105.57 1118.37 1130.61 1142.86 1154.55 1166.79 1177.92 1189.04" y="471.55" transform="scale(0.4400,1)" font-size="10.04" font-weight="bold" font-style="normal" fill="#141414" stroke="#141414" stroke-width="0.37" stroke-linejoin="round" vector-effect="non-scaling-stroke">INCORRECTLY</text>
<text x="1060.37 1072.64 1084.92 1096.61 1108.89 1116.51 1127.62 1135.25 1148.11 1159.22 1171.49 1183.19 1195.46 1203.09" y="481.55" transform="scale(0.4400,1)" font-size="10.47" font-weight="bold" font-style="normal" fill="#141414" stroke="#141414" stroke-width="0.38" stroke-linejoin="round" vector-effect="non-scaling-stroke">CREDIT&#160;OTHER’S</text>
<text x="1051.47 1065.58 1077.90 1089.62 1101.34 1108.29 1120.01 1131.14 1138.09 1149.22 1161.54 1173.26 1184.98 1196.11 1203.06 1210.01 1216.95" y="491.25" transform="scale(0.4400,1)" font-size="10.75" font-weight="bold" font-style="normal" fill="#141414" stroke="#141414" stroke-width="0.38" stroke-linejoin="round" vector-effect="non-scaling-stroke">WORK&#160;AS&#160;YOURS&#160;...</text>
<text x="1444.87 1457.25 1470.20 1477.93 1489.73 1502.69 1515.07 1522.79 1535.17 1546.97" y="166.65" transform="scale(0.4400,1)" font-size="10.47" font-weight="bold" font-style="normal" fill="#141414" stroke="#141414" stroke-width="0.38" stroke-linejoin="round" vector-effect="non-scaling-stroke">DO&#160;YOU&#160;ASK</text>
<text x="1440.91 1451.60 1463.57 1474.91 1488.14 1495.02 1506.98 1518.32 1529.01 1541.61 1553.58" y="177.04" transform="scale(0.4400,1)" font-size="11.46" font-weight="bold" font-style="normal" fill="#141414" stroke="#141414" stroke-width="0.40" stroke-linejoin="round" vector-effect="non-scaling-stroke">THEM&#160;BEFORE</text>
<text x="1459.77 1470.40 1482.22 1493.45 1504.69 1511.73 1523.56 1535.98" y="186.15" transform="scale(0.4400,1)" font-size="10.75" font-weight="bold" font-style="normal" fill="#141414" stroke="#141414" stroke-width="0.38" stroke-linejoin="round" vector-effect="non-scaling-stroke">THEY&#160;DO?</text>
<text x="1897.01 1922.64 1949.28 1974.91 1997.51 2023.14 2047.77 2072.39 2098.02 2124.67 2148.26" y="148.18" transform="scale(0.4400,1)" font-size="18.26" font-weight="bold" font-style="normal" fill="#141414" stroke="#141414" stroke-width="0.80" stroke-linejoin="round" vector-effect="non-scaling-stroke">NON–ASSHOLE</text>
<path d="M833.10,153.70 L839.76,153.82 L846.41,153.88 L853.07,154.03 L859.72,154.18 L866.38,154.02 L873.03,154.00 L879.69,153.61 L886.34,154.23 L893.00,154.00 L899.65,153.62 L906.31,154.09 L912.97,153.93 L919.62,153.55 L926.28,153.50 L932.93,153.71 L939.59,153.93 L946.24,153.57 L952.90,153.50" fill="none" stroke="#141414" stroke-width="1.80" stroke-linejoin="round" stroke-linecap="round"/>
<text x="1895.61 1912.99 1931.42 1949.85 1968.28 1985.66 1996.82 2013.17 2024.33 2043.79 2062.22 2080.65 2100.11 2120.61 2137.99" y="251.68" transform="scale(0.4400,1)" font-size="18.69" font-weight="bold" font-style="normal" fill="#141414" stroke="#141414" stroke-width="0.80" stroke-linejoin="round" vector-effect="non-scaling-stroke">LEVEL&#160;1&#160;ASSHOLE</text>
<path d="M833.10,257.30 L839.46,257.42 L845.82,257.07 L852.18,257.61 L858.54,257.53 L864.91,257.19 L871.26,257.83 L877.63,257.60 L883.99,257.35 L890.35,257.60 L896.71,257.36 L903.08,257.81 L909.44,257.76 L915.80,257.68 L922.15,257.03 L928.52,257.44 L934.88,257.04 L941.24,256.88 L947.60,257.10" fill="none" stroke="#141414" stroke-width="1.80" stroke-linejoin="round" stroke-linecap="round"/>
<text x="1895.62 1913.43 1932.28 1951.13 1969.98 1987.78 1999.41 2016.21 2027.84 2047.71 2066.56 2085.41 2105.28 2126.18 2143.99" y="352.78" transform="scale(0.4400,1)" font-size="18.55" font-weight="bold" font-style="normal" fill="#141414" stroke="#141414" stroke-width="0.80" stroke-linejoin="round" vector-effect="non-scaling-stroke">LEVEL&#160;2&#160;ASSHOLE</text>
<path d="M832.00,357.90 L838.64,358.05 L845.28,358.13 L851.92,357.68 L858.56,357.95 L865.19,358.23 L871.83,357.95 L878.47,358.26 L885.11,358.32 L891.75,358.20 L898.39,358.49 L905.03,357.91 L911.66,357.74 L918.30,357.88 L924.94,357.61 L931.59,358.20 L938.22,358.00 L944.86,357.77 L951.50,357.70" fill="none" stroke="#141414" stroke-width="1.80" stroke-linejoin="round" stroke-linecap="round"/>
<text x="1898.08 1915.79 1934.57 1953.35 1972.13 1989.83 2001.17 2017.82 2029.16 2048.99 2067.77 2086.55 2106.39 2127.28 2144.99" y="459.58" transform="scale(0.4400,1)" font-size="19.13" font-weight="bold" font-style="normal" fill="#141414" stroke="#141414" stroke-width="0.80" stroke-linejoin="round" vector-effect="non-scaling-stroke">LEVEL&#160;3&#160;ASSHOLE</text>
<path d="M834.10,465.80 L840.70,465.51 L847.29,465.55 L853.88,465.98 L860.48,466.11 L867.07,466.02 L873.67,466.00 L880.26,465.73 L886.85,466.29 L893.45,466.10 L900.04,465.83 L906.64,465.82 L913.23,465.71 L919.83,465.69 L926.42,465.75 L933.02,465.89 L939.61,465.84 L946.21,465.75 L952.80,465.60" fill="none" stroke="#141414" stroke-width="1.80" stroke-linejoin="round" stroke-linecap="round"/>
<g font-size="12.50" fill="#141414" stroke="#141414" stroke-width="0.95" stroke-linejoin="round" vector-effect="non-scaling-stroke"><text transform="matrix(0.7400,0,0,1.5000,833.20,171.70)">Y</text><text transform="matrix(0.7400,0,0,1.0000,842.73,171.70)">o</text><text transform="matrix(0.7400,0,0,1.0000,851.24,171.70)">u</text><text transform="matrix(0.7400,0,0,1.0000,865.68,171.70)">s</text><text transform="matrix(0.7400,0,0,1.0000,873.67,171.70)">e</text><text transform="matrix(0.7400,0,0,1.0000,882.18,171.70)">e</text><text transform="matrix(0.7400,0,0,1.0000,890.69,171.70)">m</text><text transform="matrix(0.7400,0,0,1.0000,907.69,171.70)">q</text><text transform="matrix(0.7400,0,0,1.0000,916.20,171.70)">u</text><text transform="matrix(0.7400,0,0,1.0000,924.71,171.70)">i</text><text transform="matrix(0.7400,0,0,1.1200,930.13,171.70)">t</text><text transform="matrix(0.7400,0,0,1.0000,936.07,171.70)">e</text></g>
<g font-size="12.50" fill="#141414" stroke="#141414" stroke-width="0.95" stroke-linejoin="round" vector-effect="non-scaling-stroke"><text transform="matrix(0.7400,0,0,1.0000,832.41,187.60)">a</text><text transform="matrix(0.7400,0,0,1.0000,847.09,187.60)">p</text><text transform="matrix(0.7400,0,0,1.3500,855.72,187.60)">l</text><text transform="matrix(0.7400,0,0,1.0000,861.27,187.60)">e</text><text transform="matrix(0.7400,0,0,1.0000,869.90,187.60)">a</text><text transform="matrix(0.7400,0,0,1.0000,878.53,187.60)">s</text><text transform="matrix(0.7400,0,0,1.0000,886.64,187.60)">a</text><text transform="matrix(0.7400,0,0,1.0000,895.27,187.60)">n</text><text transform="matrix(0.7400,0,0,1.1200,903.90,187.60)">t</text></g>
<g font-size="12.50" fill="#141414" stroke="#141414" stroke-width="0.95" stroke-linejoin="round" vector-effect="non-scaling-stroke"><text transform="matrix(0.7400,0,0,1.0000,832.80,203.90)">p</text><text transform="matrix(0.7400,0,0,1.0000,841.10,203.90)">e</text><text transform="matrix(0.7400,0,0,1.0000,849.39,203.90)">r</text><text transform="matrix(0.7400,0,0,1.0000,855.63,203.90)">s</text><text transform="matrix(0.7400,0,0,1.0000,863.40,203.90)">o</text><text transform="matrix(0.7400,0,0,1.0000,871.70,203.90)">n</text><text transform="matrix(0.7400,0,0,1.0000,879.99,203.90)">.</text><text transform="matrix(0.7400,0,0,1.5000,891.43,203.90)">C</text><text transform="matrix(0.7400,0,0,1.0000,901.27,203.90)">o</text><text transform="matrix(0.7400,0,0,1.0000,909.56,203.90)">n</text><text transform="matrix(0.7400,0,0,1.0000,917.86,203.90)">g</text><text transform="matrix(0.7400,0,0,1.0000,926.15,203.90)">r</text><text transform="matrix(0.7400,0,0,1.0000,932.38,203.90)">a</text><text transform="matrix(0.7400,0,0,1.1200,940.68,203.90)">t</text><text transform="matrix(0.7400,0,0,1.0000,946.40,203.90)">s</text><text transform="matrix(0.7400,0,0,1.0000,954.17,203.90)">.</text></g>
<g font-size="12.50" fill="#141414" stroke="#141414" stroke-width="0.95" stroke-linejoin="round" vector-effect="non-scaling-stroke"><text transform="matrix(0.7400,0,0,1.5000,831.89,276.70)">U</text><text transform="matrix(0.7400,0,0,1.0000,840.34,276.70)">n</text><text transform="matrix(0.7400,0,0,1.0000,847.27,276.70)">i</text><text transform="matrix(0.7400,0,0,1.0000,851.10,276.70)">n</text><text transform="matrix(0.7400,0,0,1.1200,858.02,276.70)">t</text><text transform="matrix(0.7400,0,0,1.0000,862.37,276.70)">e</text><text transform="matrix(0.7400,0,0,1.0000,869.29,276.70)">n</text><text transform="matrix(0.7400,0,0,1.1200,876.21,276.70)">t</text><text transform="matrix(0.7400,0,0,1.0000,880.56,276.70)">i</text><text transform="matrix(0.7400,0,0,1.0000,884.39,276.70)">o</text><text transform="matrix(0.7400,0,0,1.0000,891.31,276.70)">n</text><text transform="matrix(0.7400,0,0,1.0000,898.23,276.70)">a</text><text transform="matrix(0.7400,0,0,1.3500,905.16,276.70)">l</text><text transform="matrix(0.7400,0,0,1.0000,913.34,276.70)">a</text><text transform="matrix(0.7400,0,0,1.0000,920.26,276.70)">s</text><text transform="matrix(0.7400,0,0,1.0000,926.66,276.70)">s</text><text transform="matrix(0.7400,0,0,1.3500,933.06,276.70)">h</text><text transform="matrix(0.7400,0,0,1.0000,939.98,276.70)">o</text><text transform="matrix(0.7400,0,0,1.3500,946.91,276.70)">l</text><text transform="matrix(0.7400,0,0,1.0000,950.74,276.70)">e</text><text transform="matrix(0.7400,0,0,1.0000,957.66,276.70)">,</text></g>
<g font-size="12.50" fill="#141414" stroke="#141414" stroke-width="0.95" stroke-linejoin="round" vector-effect="non-scaling-stroke"><text transform="matrix(0.7400,0,0,1.0000,831.09,291.90)">m</text><text transform="matrix(0.7400,0,0,1.0000,840.67,291.90)">o</text><text transform="matrix(0.7400,0,0,1.0000,847.69,291.90)">s</text><text transform="matrix(0.7400,0,0,1.1200,854.20,291.90)">t</text><text transform="matrix(0.7400,0,0,1.3500,858.64,291.90)">l</text><text transform="matrix(0.7400,0,0,1.0000,862.58,291.90)">y</text><text transform="matrix(0.7400,0,0,1.3500,873.53,291.90)">d</text><text transform="matrix(0.7400,0,0,1.0000,880.55,291.90)">o</text><text transform="matrix(0.7400,0,0,1.0000,887.57,291.90)">w</text><text transform="matrix(0.7400,0,0,1.0000,896.13,291.90)">n</text><text transform="matrix(0.7400,0,0,1.1200,907.60,291.90)">t</text><text transform="matrix(0.7400,0,0,1.0000,912.05,291.90)">o</text><text transform="matrix(0.7400,0,0,1.0000,923.52,291.90)">y</text><text transform="matrix(0.7400,0,0,1.0000,930.03,291.90)">o</text><text transform="matrix(0.7400,0,0,1.0000,937.05,291.90)">u</text><text transform="matrix(0.7400,0,0,1.0000,944.07,291.90)">r</text></g>
<g font-size="12.50" fill="#141414" stroke="#141414" stroke-width="0.95" stroke-linejoin="round" vector-effect="non-scaling-stroke"><text transform="matrix(0.7400,0,0,1.3500,831.40,307.20)">b</text><text transform="matrix(0.7400,0,0,1.0000,838.40,307.20)">a</text><text transform="matrix(0.7400,0,0,1.3500,845.40,307.20)">d</text><text transform="matrix(0.7400,0,0,1.0000,856.82,307.20)">o</text><text transform="matrix(0.7400,0,0,1.0000,863.82,307.20)">r</text><text transform="matrix(0.7400,0,0,1.0000,868.76,307.20)">g</text><text transform="matrix(0.7400,0,0,1.0000,875.76,307.20)">a</text><text transform="matrix(0.7400,0,0,1.0000,882.76,307.20)">n</text><text transform="matrix(0.7400,0,0,1.0000,889.76,307.20)">i</text><text transform="matrix(0.7400,0,0,1.0000,893.66,307.20)">z</text><text transform="matrix(0.7400,0,0,1.0000,900.14,307.20)">a</text><text transform="matrix(0.7400,0,0,1.1200,907.14,307.20)">t</text><text transform="matrix(0.7400,0,0,1.0000,911.57,307.20)">i</text><text transform="matrix(0.7400,0,0,1.0000,915.48,307.20)">o</text><text transform="matrix(0.7400,0,0,1.0000,922.48,307.20)">n</text><text transform="matrix(0.7400,0,0,1.0000,929.47,307.20)">.</text></g>
<g font-size="12.50" fill="#141414" stroke="#141414" stroke-width="0.95" stroke-linejoin="round" vector-effect="non-scaling-stroke"><text transform="matrix(0.7400,0,0,1.5000,832.40,377.80)">Y</text><text transform="matrix(0.7400,0,0,1.0000,840.69,377.80)">o</text><text transform="matrix(0.7400,0,0,1.0000,847.96,377.80)">u</text><text transform="matrix(0.7400,0,0,1.0000,855.23,377.80)">’</text><text transform="matrix(0.7400,0,0,1.0000,859.41,377.80)">r</text><text transform="matrix(0.7400,0,0,1.0000,864.62,377.80)">e</text><text transform="matrix(0.7400,0,0,1.1200,876.58,377.80)">t</text><text transform="matrix(0.7400,0,0,1.0000,881.27,377.80)">o</text><text transform="matrix(0.7400,0,0,1.0000,888.54,377.80)">o</text></g>
<g font-size="12.50" fill="#141414" stroke="#141414" stroke-width="0.95" stroke-linejoin="round" vector-effect="non-scaling-stroke"><text transform="matrix(0.7400,0,0,1.0000,831.44,393.10)">s</text><text transform="matrix(0.7400,0,0,1.0000,838.28,393.10)">e</text><text transform="matrix(0.7400,0,0,1.3500,845.64,393.10)">l</text><text transform="matrix(0.7400,0,0,1.3500,849.90,393.10)">f</text><text transform="matrix(0.7400,0,0,1.0000,854.68,393.10)">-</text><text transform="matrix(0.7400,0,0,1.0000,859.98,393.10)">c</text><text transform="matrix(0.7400,0,0,1.0000,866.81,393.10)">e</text><text transform="matrix(0.7400,0,0,1.0000,874.17,393.10)">n</text><text transform="matrix(0.7400,0,0,1.1200,881.53,393.10)">t</text><text transform="matrix(0.7400,0,0,1.0000,886.31,393.10)">e</text><text transform="matrix(0.7400,0,0,1.0000,893.66,393.10)">r</text><text transform="matrix(0.7400,0,0,1.0000,898.96,393.10)">e</text><text transform="matrix(0.7400,0,0,1.3500,906.31,393.10)">d</text><text transform="matrix(0.7400,0,0,1.0000,918.45,393.10)">—</text></g>
<g font-size="12.50" fill="#141414" stroke="#141414" stroke-width="0.95" stroke-linejoin="round" vector-effect="non-scaling-stroke"><text transform="matrix(0.7400,0,0,1.3500,831.08,408.10)">l</text><text transform="matrix(0.7400,0,0,1.0000,835.12,408.10)">e</text><text transform="matrix(0.7400,0,0,1.1200,842.26,408.10)">t</text><text transform="matrix(0.7400,0,0,1.0000,851.38,408.10)">y</text><text transform="matrix(0.7400,0,0,1.0000,858.00,408.10)">o</text><text transform="matrix(0.7400,0,0,1.0000,865.14,408.10)">u</text><text transform="matrix(0.7400,0,0,1.0000,872.27,408.10)">r</text><text transform="matrix(0.7400,0,0,1.1200,881.91,408.10)">t</text><text transform="matrix(0.7400,0,0,1.0000,886.47,408.10)">e</text><text transform="matrix(0.7400,0,0,1.0000,893.61,408.10)">a</text><text transform="matrix(0.7400,0,0,1.0000,900.74,408.10)">m</text><text transform="matrix(0.7400,0,0,1.0000,915.00,408.10)">s</text><text transform="matrix(0.7400,0,0,1.3500,921.62,408.10)">h</text><text transform="matrix(0.7400,0,0,1.0000,928.75,408.10)">i</text><text transform="matrix(0.7400,0,0,1.0000,932.80,408.10)">n</text><text transform="matrix(0.7400,0,0,1.0000,939.94,408.10)">e</text><text transform="matrix(0.7400,0,0,1.0000,947.07,408.10)">.</text></g>
<g font-size="12.50" fill="#141414" stroke="#141414" stroke-width="0.95" stroke-linejoin="round" vector-effect="non-scaling-stroke"><text transform="matrix(0.7400,0,0,1.5000,832.74,487.80)">R</text><text transform="matrix(0.7400,0,0,1.0000,841.29,487.80)">e</text><text transform="matrix(0.7400,0,0,1.1200,848.30,487.80)">t</text><text transform="matrix(0.7400,0,0,1.0000,852.74,487.80)">u</text><text transform="matrix(0.7400,0,0,1.0000,859.75,487.80)">r</text><text transform="matrix(0.7400,0,0,1.0000,864.70,487.80)">n</text><text transform="matrix(0.7400,0,0,1.1200,876.14,487.80)">t</text><text transform="matrix(0.7400,0,0,1.3500,880.58,487.80)">h</text><text transform="matrix(0.7400,0,0,1.0000,887.59,487.80)">i</text><text transform="matrix(0.7400,0,0,1.0000,891.51,487.80)">s</text><text transform="matrix(0.7400,0,0,1.3500,902.44,487.80)">b</text><text transform="matrix(0.7400,0,0,1.0000,909.46,487.80)">o</text><text transform="matrix(0.7400,0,0,1.0000,916.47,487.80)">o</text><text transform="matrix(0.7400,0,0,1.3500,923.48,487.80)">k</text><text transform="matrix(0.7400,0,0,1.1200,934.41,487.80)">t</text><text transform="matrix(0.7400,0,0,1.0000,938.84,487.80)">o</text></g>
<g font-size="12.50" fill="#141414" stroke="#141414" stroke-width="0.95" stroke-linejoin="round" vector-effect="non-scaling-stroke"><text transform="matrix(0.7400,0,0,1.1200,833.36,503.50)">t</text><text transform="matrix(0.7400,0,0,1.3500,837.73,503.50)">h</text><text transform="matrix(0.7400,0,0,1.0000,844.68,503.50)">e</text><text transform="matrix(0.7400,0,0,1.0000,855.99,503.50)">p</text><text transform="matrix(0.7400,0,0,1.0000,862.94,503.50)">o</text><text transform="matrix(0.7400,0,0,1.0000,869.88,503.50)">i</text><text transform="matrix(0.7400,0,0,1.0000,873.74,503.50)">n</text><text transform="matrix(0.7400,0,0,1.1200,880.69,503.50)">t</text><text transform="matrix(0.7400,0,0,1.0000,889.43,503.50)">o</text><text transform="matrix(0.7400,0,0,1.3500,896.37,503.50)">f</text><text transform="matrix(0.7400,0,0,1.0000,905.11,503.50)">p</text><text transform="matrix(0.7400,0,0,1.0000,912.06,503.50)">u</text><text transform="matrix(0.7400,0,0,1.0000,919.01,503.50)">r</text><text transform="matrix(0.7400,0,0,1.0000,923.89,503.50)">c</text><text transform="matrix(0.7400,0,0,1.3500,930.31,503.50)">h</text><text transform="matrix(0.7400,0,0,1.0000,937.26,503.50)">a</text><text transform="matrix(0.7400,0,0,1.0000,944.20,503.50)">s</text><text transform="matrix(0.7400,0,0,1.0000,950.63,503.50)">e</text><text transform="matrix(0.7400,0,0,1.0000,957.57,503.50)">.</text></g>
<g font-size="12.50" fill="#141414" stroke="#141414" stroke-width="0.95" stroke-linejoin="round" vector-effect="non-scaling-stroke"><text transform="matrix(0.7400,0,0,1.5000,833.30,518.80)">Y</text><text transform="matrix(0.7400,0,0,1.0000,841.25,518.80)">o</text><text transform="matrix(0.7400,0,0,1.0000,848.17,518.80)">u</text><text transform="matrix(0.7400,0,0,1.0000,859.44,518.80)">a</text><text transform="matrix(0.7400,0,0,1.0000,866.37,518.80)">r</text><text transform="matrix(0.7400,0,0,1.0000,871.23,518.80)">e</text><text transform="matrix(0.7400,0,0,1.3500,882.50,518.80)">b</text><text transform="matrix(0.7400,0,0,1.0000,889.42,518.80)">e</text><text transform="matrix(0.7400,0,0,1.0000,896.35,518.80)">y</text><text transform="matrix(0.7400,0,0,1.0000,902.75,518.80)">o</text><text transform="matrix(0.7400,0,0,1.0000,909.67,518.80)">n</text><text transform="matrix(0.7400,0,0,1.3500,916.60,518.80)">d</text><text transform="matrix(0.7400,0,0,1.3500,927.87,518.80)">h</text><text transform="matrix(0.7400,0,0,1.0000,934.79,518.80)">e</text><text transform="matrix(0.7400,0,0,1.3500,941.72,518.80)">l</text><text transform="matrix(0.7400,0,0,1.0000,945.55,518.80)">p</text><text transform="matrix(0.7400,0,0,1.0000,952.47,518.80)">.</text></g>
</svg>
</body></html>
